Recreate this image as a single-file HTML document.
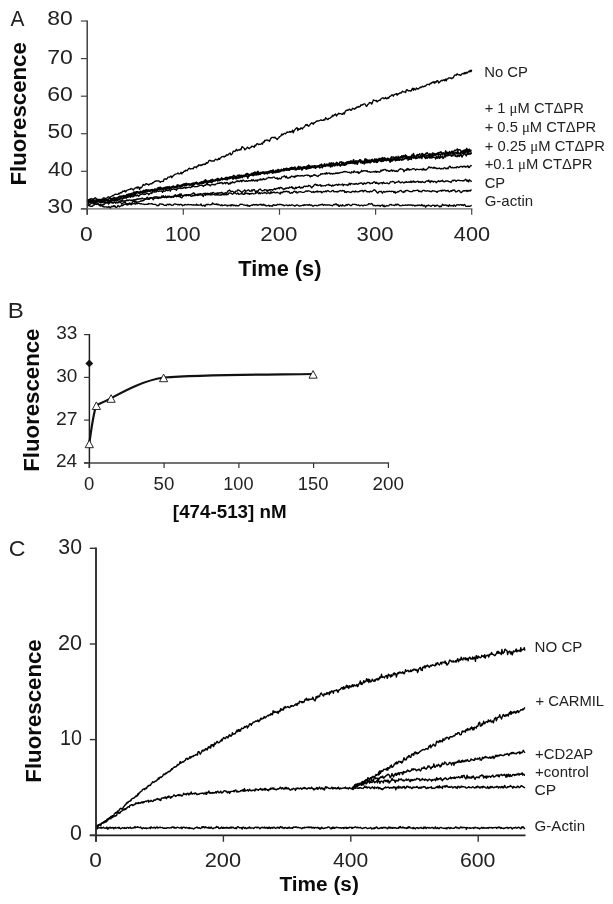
<!DOCTYPE html>
<html><head><meta charset="utf-8"><title>Figure</title>
<style>
html,body{margin:0;padding:0;background:#fff;}
svg{display:block;filter:blur(0.4px);}
text{font-family:"Liberation Sans",sans-serif;fill:#222;}
.sy{font-family:"Liberation Serif",serif;}
</style></head><body>
<svg width="613" height="904" viewBox="0 0 613 904">
<rect width="613" height="904" fill="#fff"/>
<g id="curvesA">
<polyline points="87.2,199.3 88.0,199.7 88.7,200.8 89.5,199.8 90.3,198.8 91.0,198.8 91.8,198.7 92.6,199.2 93.4,198.9 94.1,198.7 94.9,198.0 95.7,197.8 96.4,198.9 97.2,199.8 98.0,199.1 98.7,200.0 99.5,200.7 100.3,200.3 101.0,200.7 101.8,199.3 102.6,199.0 103.3,197.9 104.1,197.9 104.9,198.5 105.7,198.7 106.4,198.1 107.2,197.9 108.0,196.9 108.7,196.8 109.5,197.8 110.3,197.0 111.0,196.8 111.8,196.3 112.6,195.5 113.3,195.8 114.1,194.8 114.9,194.3 115.7,194.2 116.4,194.4 117.2,194.4 118.0,194.4 118.7,193.3 119.5,193.8 120.3,192.5 121.0,193.0 121.8,192.6 122.6,191.2 123.3,191.1 124.1,191.5 124.9,190.5 125.7,192.0 126.4,190.9 127.2,190.1 128.0,189.9 128.7,189.6 129.5,189.4 130.3,189.4 131.0,188.5 131.8,188.8 132.6,189.1 133.3,190.1 134.1,188.9 134.9,188.2 135.6,187.8 136.4,187.2 137.2,188.3 138.0,186.8 138.7,187.3 139.5,189.5 140.3,187.3 141.0,187.9 141.8,187.3 142.6,185.8 143.3,184.4 144.1,185.2 144.9,185.1 145.6,183.8 146.4,183.7 147.2,184.4 148.0,184.1 148.7,185.0 149.5,184.4 150.3,183.8 151.0,183.7 151.8,183.8 152.6,182.6 153.3,182.8 154.1,182.1 154.9,181.1 155.6,181.4 156.4,180.8 157.2,180.9 158.0,181.1 158.7,180.8 159.5,181.6 160.3,182.3 161.0,181.6 161.8,181.4 162.6,181.3 163.3,181.6 164.1,179.0 164.9,179.1 165.6,178.8 166.4,179.3 167.2,178.5 167.9,177.2 168.7,177.1 169.5,177.2 170.3,176.5 171.0,176.0 171.8,177.7 172.6,176.1 173.3,175.9 174.1,175.1 174.9,174.4 175.6,174.1 176.4,173.9 177.2,173.6 177.9,172.9 178.7,173.8 179.5,173.9 180.3,173.5 181.0,172.2 181.8,173.9 182.6,172.6 183.3,172.3 184.1,171.2 184.9,171.3 185.6,170.1 186.4,170.6 187.2,170.7 187.9,169.7 188.7,168.6 189.5,168.2 190.3,169.0 191.0,168.8 191.8,168.6 192.6,168.5 193.3,168.8 194.1,167.0 194.9,166.9 195.6,167.2 196.4,167.8 197.2,166.1 197.9,166.4 198.7,164.8 199.5,165.2 200.2,165.6 201.0,164.7 201.8,165.5 202.6,164.4 203.3,164.2 204.1,164.6 204.9,164.0 205.6,164.3 206.4,162.5 207.2,163.3 207.9,162.8 208.7,161.1 209.5,160.3 210.2,160.4 211.0,161.0 211.8,161.0 212.6,161.0 213.3,160.9 214.1,161.1 214.9,159.9 215.6,159.1 216.4,159.6 217.2,160.0 217.9,159.7 218.7,158.3 219.5,159.4 220.2,158.1 221.0,157.7 221.8,156.7 222.6,156.6 223.3,156.4 224.1,157.0 224.9,156.2 225.6,156.4 226.4,154.8 227.2,155.0 227.9,155.0 228.7,154.1 229.5,153.6 230.2,152.9 231.0,154.9 231.8,154.2 232.5,153.3 233.3,151.1 234.1,151.1 234.9,151.5 235.6,150.8 236.4,149.3 237.2,150.8 237.9,150.3 238.7,149.8 239.5,150.0 240.2,149.3 241.0,149.9 241.8,147.1 242.5,146.7 243.3,147.7 244.1,148.2 244.9,149.9 245.6,148.9 246.4,148.7 247.2,147.2 247.9,147.6 248.7,148.3 249.5,148.7 250.2,147.5 251.0,147.4 251.8,146.1 252.5,146.4 253.3,146.5 254.1,147.4 254.9,145.3 255.6,145.9 256.4,144.4 257.2,143.6 257.9,144.0 258.7,144.6 259.5,144.1 260.2,144.4 261.0,144.1 261.8,143.1 262.5,144.1 263.3,141.9 264.1,142.3 264.8,140.3 265.6,140.5 266.4,140.2 267.2,139.9 267.9,140.6 268.7,140.4 269.5,141.2 270.2,139.6 271.0,138.2 271.8,137.4 272.5,137.4 273.3,137.4 274.1,137.9 274.8,137.1 275.6,137.9 276.4,138.7 277.2,139.6 277.9,138.5 278.7,137.9 279.5,136.7 280.2,136.3 281.0,135.7 281.8,133.9 282.5,135.0 283.3,134.4 284.1,133.3 284.8,133.3 285.6,133.9 286.4,132.9 287.2,131.9 287.9,132.3 288.7,132.2 289.5,131.5 290.2,132.3 291.0,131.6 291.8,131.9 292.5,130.2 293.3,132.8 294.1,130.7 294.8,129.8 295.6,128.9 296.4,128.0 297.1,127.7 297.9,130.6 298.7,128.6 299.5,129.3 300.2,129.3 301.0,127.8 301.8,128.5 302.5,129.0 303.3,127.3 304.1,127.2 304.8,126.3 305.6,124.8 306.4,125.2 307.1,124.4 307.9,125.8 308.7,126.3 309.5,125.0 310.2,124.4 311.0,123.4 311.8,122.7 312.5,123.3 313.3,124.2 314.1,122.6 314.8,122.8 315.6,121.8 316.4,121.4 317.1,120.8 317.9,121.1 318.7,120.8 319.5,120.7 320.2,120.2 321.0,119.7 321.8,120.4 322.5,120.3 323.3,120.3 324.1,119.4 324.8,120.1 325.6,117.7 326.4,118.4 327.1,119.2 327.9,119.6 328.7,118.5 329.4,118.3 330.2,118.2 331.0,117.1 331.8,117.0 332.5,115.2 333.3,116.1 334.1,115.3 334.8,114.6 335.6,113.9 336.4,116.0 337.1,115.0 337.9,114.3 338.7,113.2 339.4,113.8 340.2,113.6 341.0,113.7 341.8,114.3 342.5,114.3 343.3,112.9 344.1,114.1 344.8,112.6 345.6,110.8 346.4,110.5 347.1,110.0 347.9,110.3 348.7,109.9 349.4,109.1 350.2,109.6 351.0,110.4 351.7,110.0 352.5,108.3 353.3,108.6 354.1,109.0 354.8,109.2 355.6,107.8 356.4,108.0 357.1,106.8 357.9,107.3 358.7,106.4 359.4,106.9 360.2,106.4 361.0,104.7 361.7,105.2 362.5,105.0 363.3,104.4 364.1,103.8 364.8,103.8 365.6,105.0 366.4,106.4 367.1,105.7 367.9,104.4 368.7,104.0 369.4,102.4 370.2,102.8 371.0,102.7 371.7,104.1 372.5,102.4 373.3,100.0 374.1,100.3 374.8,100.4 375.6,100.8 376.4,100.4 377.1,101.9 377.9,101.3 378.7,100.3 379.4,100.2 380.2,100.2 381.0,98.8 381.7,98.5 382.5,97.8 383.3,97.9 384.0,98.7 384.8,98.3 385.6,97.4 386.4,98.9 387.1,98.7 387.9,97.5 388.7,98.2 389.4,96.7 390.2,96.4 391.0,95.7 391.7,95.0 392.5,94.9 393.3,96.2 394.0,94.9 394.8,94.4 395.6,94.2 396.4,93.6 397.1,95.3 397.9,93.7 398.7,94.1 399.4,93.2 400.2,92.9 401.0,93.2 401.7,92.1 402.5,91.1 403.3,91.9 404.0,91.9 404.8,91.9 405.6,92.5 406.4,89.8 407.1,89.6 407.9,90.5 408.7,90.8 409.4,90.7 410.2,90.7 411.0,91.1 411.7,89.7 412.5,88.3 413.3,90.3 414.0,88.3 414.8,89.7 415.6,89.9 416.3,88.0 417.1,88.7 417.9,89.1 418.7,88.7 419.4,87.9 420.2,87.2 421.0,87.6 421.7,87.0 422.5,86.1 423.3,86.9 424.0,86.7 424.8,85.9 425.6,86.1 426.3,85.1 427.1,84.4 427.9,84.4 428.7,84.4 429.4,84.8 430.2,83.2 431.0,83.7 431.7,82.7 432.5,82.1 433.3,82.7 434.0,81.5 434.8,83.3 435.6,81.7 436.3,82.1 437.1,80.5 437.9,80.9 438.7,83.0 439.4,82.2 440.2,81.6 441.0,80.7 441.7,80.3 442.5,80.7 443.3,79.9 444.0,79.8 444.8,80.7 445.6,79.1 446.3,80.8 447.1,78.8 447.9,78.9 448.6,77.9 449.4,77.9 450.2,78.2 451.0,77.8 451.7,78.7 452.5,77.9 453.3,77.8 454.0,76.2 454.8,75.0 455.6,75.0 456.3,75.3 457.1,73.8 457.9,74.5 458.6,74.9 459.4,74.6 460.2,75.2 461.0,75.2 461.7,74.0 462.5,73.7 463.3,73.3 464.0,74.1 464.8,72.5 465.6,73.7 466.3,72.3 467.1,73.1 467.9,72.2 468.6,71.3 469.4,71.9 470.2,70.3 471.0,71.7 471.7,69.8" fill="none" stroke="#000" stroke-width="1.35" stroke-linejoin="round"/>
<polyline points="87.2,200.9 87.7,201.5 88.3,201.4 88.8,201.8 89.3,202.0 89.8,201.9 90.4,201.5 90.9,201.9 91.4,202.2 92.0,200.9 92.5,200.9 93.0,201.1 93.5,201.2 94.1,201.9 94.6,202.2 95.1,202.4 95.7,201.5 96.2,200.8 96.7,200.6 97.2,199.8 97.8,200.7 98.3,200.6 98.8,200.4 99.4,199.5 99.9,199.5 100.4,199.8 100.9,199.3 101.5,199.3 102.0,200.1 102.5,200.2 103.1,199.5 103.6,199.4 104.1,199.4 104.6,199.6 105.2,199.9 105.7,199.3 106.2,199.8 106.8,199.2 107.3,199.2 107.8,200.4 108.3,199.6 108.9,198.6 109.4,198.3 109.9,198.0 110.5,198.6 111.0,199.4 111.5,198.8 112.0,199.2 112.6,199.4 113.1,198.0 113.6,198.5 114.2,198.2 114.7,198.5 115.2,198.9 115.8,199.1 116.3,199.2 116.8,198.4 117.3,198.9 117.9,197.5 118.4,197.0 118.9,196.7 119.5,196.2 120.0,196.2 120.5,196.6 121.0,195.9 121.6,196.5 122.1,196.3 122.6,196.8 123.2,195.8 123.7,196.5 124.2,196.2 124.7,196.2 125.3,195.9 125.8,195.7 126.3,195.1 126.9,194.3 127.4,194.3 127.9,194.8 128.4,194.0 129.0,194.6 129.5,195.0 130.0,193.8 130.6,194.5 131.1,193.6 131.6,193.3 132.1,193.7 132.7,193.5 133.2,192.5 133.7,192.1 134.3,192.7 134.8,191.9 135.3,192.5 135.8,192.2 136.4,191.7 136.9,191.7 137.4,192.2 138.0,192.8 138.5,192.3 139.0,192.2 139.5,192.2 140.1,192.4 140.6,192.4 141.1,192.0 141.7,192.5 142.2,192.0 142.7,191.0 143.2,190.8 143.8,190.2 144.3,190.6 144.8,191.0 145.4,190.3 145.9,190.7 146.4,190.2 146.9,190.8 147.5,189.9 148.0,189.9 148.5,190.2 149.1,190.0 149.6,190.5 150.1,190.4 150.6,190.3 151.2,189.6 151.7,190.0 152.2,189.8 152.8,190.3 153.3,190.6 153.8,190.7 154.3,189.9 154.9,188.7 155.4,189.3 155.9,189.7 156.5,189.2 157.0,189.1 157.5,187.9 158.0,188.0 158.6,187.5 159.1,187.8 159.6,187.3 160.2,187.3 160.7,187.2 161.2,188.5 161.7,188.2 162.3,188.3 162.8,189.1 163.3,188.5 163.9,188.2 164.4,188.3 164.9,187.2 165.4,187.2 166.0,187.5 166.5,188.2 167.0,186.7 167.6,187.1 168.1,186.9 168.6,187.2 169.2,188.3 169.7,187.5 170.2,187.6 170.7,187.3 171.3,187.1 171.8,187.1 172.3,186.5 172.9,186.7 173.4,186.7 173.9,187.1 174.4,187.2 175.0,187.0 175.5,187.3 176.0,186.7 176.6,186.4 177.1,186.7 177.6,186.5 178.1,185.4 178.7,185.6 179.2,185.7 179.7,186.1 180.3,185.2 180.8,186.0 181.3,186.2 181.8,185.5 182.4,185.2 182.9,184.3 183.4,184.7 184.0,183.7 184.5,184.6 185.0,183.9 185.5,183.9 186.1,183.1 186.6,184.1 187.1,184.0 187.7,184.2 188.2,183.9 188.7,184.8 189.2,184.7 189.8,185.1 190.3,184.7 190.8,184.6 191.4,184.3 191.9,183.7 192.4,183.3 192.9,183.4 193.5,183.2 194.0,182.9 194.5,184.2 195.1,183.2 195.6,182.6 196.1,182.3 196.6,183.1 197.2,183.0 197.7,184.1 198.2,183.6 198.8,183.1 199.3,182.8 199.8,182.5 200.3,182.2 200.9,182.7 201.4,181.9 201.9,181.7 202.5,182.1 203.0,181.8 203.5,181.3 204.0,181.7 204.6,181.1 205.1,179.9 205.6,179.7 206.2,180.6 206.7,181.3 207.2,181.4 207.7,181.5 208.3,182.1 208.8,180.7 209.3,181.2 209.9,181.4 210.4,180.0 210.9,180.7 211.4,180.2 212.0,179.4 212.5,179.3 213.0,179.8 213.6,180.2 214.1,180.8 214.6,180.1 215.1,180.7 215.7,180.7 216.2,179.7 216.7,179.4 217.3,179.4 217.8,178.3 218.3,178.8 218.9,179.7 219.4,179.1 219.9,179.9 220.4,179.2 221.0,178.7 221.5,177.7 222.0,179.1 222.6,179.7 223.1,179.0 223.6,178.6 224.1,178.8 224.7,178.6 225.2,177.8 225.7,177.5 226.3,177.3 226.8,177.5 227.3,177.5 227.8,177.6 228.4,177.6 228.9,177.6 229.4,177.1 230.0,176.8 230.5,178.0 231.0,177.4 231.5,176.9 232.1,176.8 232.6,176.3 233.1,176.6 233.7,175.3 234.2,175.6 234.7,176.3 235.2,177.7 235.8,178.0 236.3,176.7 236.8,176.1 237.4,176.0 237.9,175.1 238.4,175.8 238.9,175.0 239.5,175.2 240.0,175.1 240.5,176.3 241.1,175.3 241.6,175.2 242.1,176.2 242.6,175.8 243.2,175.4 243.7,175.6 244.2,176.5 244.8,175.3 245.3,174.9 245.8,175.2 246.3,173.5 246.9,174.8 247.4,175.0 247.9,174.7 248.5,175.2 249.0,174.5 249.5,174.8 250.0,175.2 250.6,175.2 251.1,173.8 251.6,173.4 252.2,173.1 252.7,173.5 253.2,173.5 253.7,172.6 254.3,173.3 254.8,172.0 255.3,174.0 255.9,173.8 256.4,173.6 256.9,172.8 257.4,171.6 258.0,171.2 258.5,173.0 259.0,172.5 259.6,173.2 260.1,173.5 260.6,173.3 261.1,172.7 261.7,173.1 262.2,172.0 262.7,172.2 263.3,173.0 263.8,173.2 264.3,173.6 264.8,172.0 265.4,173.5 265.9,172.2 266.4,172.8 267.0,173.2 267.5,173.7 268.0,172.3 268.5,171.4 269.1,171.8 269.6,171.4 270.1,170.8 270.7,171.0 271.2,170.6 271.7,171.6 272.3,170.4 272.8,171.5 273.3,170.0 273.8,171.6 274.4,172.6 274.9,171.3 275.4,171.3 276.0,170.1 276.5,171.1 277.0,170.8 277.5,170.3 278.1,169.3 278.6,170.1 279.1,170.0 279.7,170.1 280.2,170.5 280.7,170.5 281.2,170.6 281.8,171.0 282.3,169.7 282.8,170.5 283.4,169.1 283.9,168.5 284.4,169.4 284.9,169.8 285.5,168.7 286.0,168.6 286.5,168.1 287.1,168.8 287.6,168.5 288.1,169.7 288.6,169.8 289.2,169.8 289.7,168.4 290.2,168.1 290.8,167.9 291.3,167.4 291.8,167.3 292.3,169.2 292.9,167.4 293.4,168.8 293.9,167.8 294.5,167.9 295.0,169.8 295.5,169.1 296.0,169.5 296.6,168.6 297.1,168.0 297.6,167.1 298.2,167.7 298.7,166.2 299.2,167.2 299.7,167.2 300.3,167.0 300.8,167.0 301.3,168.4 301.9,168.1 302.4,168.2 302.9,168.1 303.4,166.6 304.0,168.0 304.5,166.6 305.0,166.7 305.6,167.4 306.1,167.5 306.6,166.5 307.1,166.3 307.7,165.6 308.2,165.6 308.7,165.0 309.3,167.7 309.8,165.8 310.3,166.3 310.8,166.4 311.4,166.5 311.9,167.3 312.4,166.5 313.0,167.2 313.5,166.7 314.0,167.9 314.5,166.1 315.1,166.6 315.6,166.7 316.1,166.4 316.7,166.7 317.2,166.9 317.7,166.7 318.2,166.3 318.8,165.6 319.3,165.8 319.8,164.9 320.4,165.1 320.9,165.2 321.4,164.0 321.9,164.7 322.5,166.2 323.0,166.0 323.5,165.8 324.1,166.0 324.6,163.7 325.1,165.3 325.7,165.1 326.2,165.5 326.7,165.3 327.2,164.2 327.8,165.4 328.3,164.5 328.8,164.6 329.4,163.0 329.9,164.4 330.4,164.6 330.9,165.2 331.5,166.0 332.0,164.3 332.5,163.2 333.1,164.8 333.6,163.3 334.1,164.2 334.6,164.8 335.2,164.5 335.7,164.6 336.2,164.4 336.8,162.4 337.3,164.8 337.8,163.4 338.3,163.5 338.9,164.2 339.4,163.3 339.9,161.9 340.5,162.2 341.0,161.9 341.5,162.0 342.0,164.5 342.6,162.6 343.1,162.3 343.6,163.1 344.2,163.0 344.7,164.1 345.2,163.0 345.7,163.4 346.3,163.4 346.8,162.1 347.3,163.0 347.9,162.0 348.4,162.6 348.9,161.5 349.4,161.4 350.0,162.1 350.5,161.6 351.0,160.5 351.6,162.2 352.1,161.8 352.6,162.1 353.1,160.3 353.7,159.6 354.2,161.3 354.7,161.9 355.3,162.1 355.8,161.5 356.3,162.7 356.8,161.2 357.4,161.0 357.9,161.5 358.4,161.3 359.0,160.6 359.5,159.8 360.0,161.4 360.5,159.6 361.1,161.1 361.6,161.5 362.1,160.9 362.7,161.4 363.2,161.7 363.7,161.4 364.2,161.5 364.8,159.1 365.3,158.8 365.8,160.4 366.4,159.2 366.9,160.8 367.4,160.5 367.9,159.8 368.5,161.1 369.0,160.8 369.5,160.0 370.1,160.7 370.6,160.7 371.1,159.8 371.6,160.0 372.2,159.3 372.7,160.1 373.2,160.1 373.8,160.6 374.3,160.4 374.8,161.2 375.3,161.0 375.9,159.1 376.4,159.4 376.9,158.9 377.5,160.5 378.0,159.8 378.5,159.1 379.1,158.3 379.6,159.3 380.1,159.3 380.6,158.4 381.2,158.6 381.7,159.3 382.2,157.4 382.8,158.0 383.3,159.4 383.8,157.9 384.3,159.0 384.9,157.8 385.4,158.7 385.9,159.4 386.5,158.8 387.0,158.8 387.5,158.1 388.0,158.2 388.6,158.9 389.1,159.5 389.6,161.4 390.2,158.7 390.7,159.6 391.2,157.3 391.7,156.7 392.3,157.1 392.8,157.1 393.3,157.0 393.9,157.2 394.4,157.3 394.9,157.7 395.4,158.3 396.0,156.5 396.5,157.6 397.0,157.4 397.6,158.1 398.1,157.9 398.6,158.1 399.1,157.4 399.7,157.1 400.2,157.5 400.7,158.0 401.3,157.9 401.8,155.7 402.3,157.4 402.8,157.5 403.4,155.5 403.9,156.0 404.4,156.2 405.0,156.6 405.5,154.8 406.0,156.2 406.5,155.8 407.1,156.3 407.6,157.7 408.1,157.7 408.7,156.6 409.2,157.1 409.7,157.2 410.2,157.9 410.8,157.7 411.3,156.7 411.8,157.3 412.4,155.1 412.9,155.1 413.4,153.4 413.9,154.5 414.5,155.7 415.0,155.8 415.5,157.9 416.1,156.2 416.6,155.8 417.1,154.4 417.6,154.9 418.2,154.6 418.7,154.7 419.2,154.6 419.8,153.7 420.3,155.8 420.8,155.8 421.3,156.5 421.9,153.5 422.4,153.5 422.9,153.9 423.5,155.4 424.0,154.8 424.5,154.8 425.0,154.3 425.6,153.9 426.1,153.1 426.6,153.6 427.2,152.5 427.7,153.3 428.2,154.1 428.7,154.3 429.3,154.6 429.8,153.7 430.3,154.7 430.9,154.0 431.4,154.6 431.9,155.5 432.5,152.9 433.0,154.8 433.5,153.1 434.0,153.5 434.6,155.3 435.1,154.5 435.6,154.2 436.2,154.2 436.7,154.3 437.2,152.9 437.7,153.7 438.3,152.8 438.8,153.5 439.3,152.3 439.9,152.9 440.4,152.6 440.9,151.6 441.4,152.7 442.0,153.7 442.5,154.4 443.0,153.6 443.6,153.1 444.1,153.3 444.6,153.3 445.1,152.5 445.7,150.6 446.2,153.2 446.7,152.8 447.3,152.2 447.8,155.2 448.3,152.7 448.8,153.5 449.4,151.5 449.9,152.5 450.4,152.4 451.0,151.9 451.5,151.7 452.0,152.6 452.5,152.1 453.1,153.5 453.6,151.9 454.1,150.9 454.7,150.1 455.2,150.6 455.7,150.9 456.2,149.9 456.8,149.5 457.3,148.9 457.8,149.3 458.4,150.2 458.9,150.0 459.4,149.7 459.9,149.8 460.5,150.1 461.0,151.2 461.5,152.8 462.1,151.2 462.6,152.8 463.1,150.4 463.6,150.3 464.2,151.9 464.7,149.9 465.2,149.8 465.8,150.4 466.3,149.1 466.8,148.3 467.3,151.7 467.9,149.5 468.4,150.0 468.9,149.8 469.5,149.1 470.0,150.6 470.5,150.3 471.0,150.5 471.6,150.2" fill="none" stroke="#000" stroke-width="1.35" stroke-linejoin="round"/>
<polyline points="87.2,204.9 87.7,204.2 88.3,203.9 88.8,204.0 89.3,205.0 89.8,204.4 90.4,204.1 90.9,203.6 91.4,203.3 92.0,203.4 92.5,202.6 93.0,202.9 93.5,203.0 94.1,202.3 94.6,202.2 95.1,202.4 95.7,202.2 96.2,201.8 96.7,201.9 97.2,201.8 97.8,201.8 98.3,201.5 98.8,201.8 99.4,201.3 99.9,201.2 100.4,202.6 100.9,201.5 101.5,201.6 102.0,201.9 102.5,201.6 103.1,201.4 103.6,201.4 104.1,201.0 104.6,201.2 105.2,200.4 105.7,200.7 106.2,200.1 106.8,200.2 107.3,201.2 107.8,200.8 108.3,201.3 108.9,200.9 109.4,201.2 109.9,200.4 110.5,199.6 111.0,200.1 111.5,198.9 112.0,199.5 112.6,199.4 113.1,198.4 113.6,198.1 114.2,197.5 114.7,198.3 115.2,197.9 115.8,198.0 116.3,197.8 116.8,198.5 117.3,198.0 117.9,197.7 118.4,198.1 118.9,197.5 119.5,198.4 120.0,198.0 120.5,197.9 121.0,198.0 121.6,197.5 122.1,196.2 122.6,196.6 123.2,196.3 123.7,195.4 124.2,195.7 124.7,195.8 125.3,196.6 125.8,196.0 126.3,195.1 126.9,195.2 127.4,194.7 127.9,195.7 128.4,195.2 129.0,195.3 129.5,194.2 130.0,194.8 130.6,193.9 131.1,194.3 131.6,194.5 132.1,193.8 132.7,193.8 133.2,194.1 133.7,193.1 134.3,193.4 134.8,193.7 135.3,193.9 135.8,193.2 136.4,192.7 136.9,191.8 137.4,191.6 138.0,191.9 138.5,192.4 139.0,192.5 139.5,192.3 140.1,191.7 140.6,191.1 141.1,191.7 141.7,191.6 142.2,192.1 142.7,191.5 143.2,192.7 143.8,192.7 144.3,192.1 144.8,191.8 145.4,190.6 145.9,190.0 146.4,189.8 146.9,190.8 147.5,190.6 148.0,191.0 148.5,190.7 149.1,190.8 149.6,190.9 150.1,190.2 150.6,190.9 151.2,191.0 151.7,190.4 152.2,190.5 152.8,190.9 153.3,190.5 153.8,190.4 154.3,190.5 154.9,190.0 155.4,189.8 155.9,190.0 156.5,189.9 157.0,189.5 157.5,189.9 158.0,189.9 158.6,189.2 159.1,189.3 159.6,189.7 160.2,188.4 160.7,188.6 161.2,188.4 161.7,188.1 162.3,188.6 162.8,188.7 163.3,187.8 163.9,188.9 164.4,188.6 164.9,188.7 165.4,188.9 166.0,188.5 166.5,188.3 167.0,187.1 167.6,188.6 168.1,188.3 168.6,187.7 169.2,187.9 169.7,187.6 170.2,187.3 170.7,187.8 171.3,187.6 171.8,187.5 172.3,186.6 172.9,186.2 173.4,186.4 173.9,186.7 174.4,187.1 175.0,187.4 175.5,186.7 176.0,186.5 176.6,186.4 177.1,184.9 177.6,184.8 178.1,185.7 178.7,185.2 179.2,185.7 179.7,185.9 180.3,185.9 180.8,185.8 181.3,185.5 181.8,184.8 182.4,185.5 182.9,185.4 183.4,185.5 184.0,184.9 184.5,184.8 185.0,184.1 185.5,184.6 186.1,184.1 186.6,184.7 187.1,184.5 187.7,184.8 188.2,184.2 188.7,184.4 189.2,183.8 189.8,184.7 190.3,184.0 190.8,184.4 191.4,183.6 191.9,184.9 192.4,185.0 192.9,185.5 193.5,183.6 194.0,184.8 194.5,183.7 195.1,182.8 195.6,183.2 196.1,182.2 196.6,182.2 197.2,183.4 197.7,183.4 198.2,184.1 198.8,184.0 199.3,184.0 199.8,183.4 200.3,182.9 200.9,183.5 201.4,183.6 201.9,183.7 202.5,183.4 203.0,181.8 203.5,182.1 204.0,182.1 204.6,181.6 205.1,182.2 205.6,180.9 206.2,182.1 206.7,181.2 207.2,180.9 207.7,182.0 208.3,182.5 208.8,182.2 209.3,181.1 209.9,182.1 210.4,181.9 210.9,180.4 211.4,180.5 212.0,181.1 212.5,181.8 213.0,180.7 213.6,180.9 214.1,180.6 214.6,180.3 215.1,180.3 215.7,179.9 216.2,179.0 216.7,179.3 217.3,180.8 217.8,181.1 218.3,179.6 218.9,180.4 219.4,180.7 219.9,179.4 220.4,179.6 221.0,179.7 221.5,179.3 222.0,179.3 222.6,179.5 223.1,178.7 223.6,179.1 224.1,179.0 224.7,178.7 225.2,178.8 225.7,179.6 226.3,179.5 226.8,179.0 227.3,178.8 227.8,178.2 228.4,178.1 228.9,177.4 229.4,177.4 230.0,177.4 230.5,177.8 231.0,177.0 231.5,177.1 232.1,178.1 232.6,179.0 233.1,179.2 233.7,178.1 234.2,177.3 234.7,176.7 235.2,177.4 235.8,176.2 236.3,177.1 236.8,177.3 237.4,177.4 237.9,178.2 238.4,177.9 238.9,178.0 239.5,177.6 240.0,178.0 240.5,176.7 241.1,176.7 241.6,176.1 242.1,175.8 242.6,176.2 243.2,176.0 243.7,176.1 244.2,175.2 244.8,175.3 245.3,175.3 245.8,174.4 246.3,174.4 246.9,174.5 247.4,173.7 247.9,173.5 248.5,174.9 249.0,174.6 249.5,175.8 250.0,174.7 250.6,174.8 251.1,175.1 251.6,174.2 252.2,174.3 252.7,174.6 253.2,174.5 253.7,174.2 254.3,173.3 254.8,174.3 255.3,173.7 255.9,172.3 256.4,173.2 256.9,173.1 257.4,173.6 258.0,174.9 258.5,174.1 259.0,173.6 259.6,174.2 260.1,173.3 260.6,172.3 261.1,172.4 261.7,173.2 262.2,172.9 262.7,173.3 263.3,171.9 263.8,172.5 264.3,172.4 264.8,172.8 265.4,172.8 265.9,172.2 266.4,172.6 267.0,173.6 267.5,173.7 268.0,173.1 268.5,172.4 269.1,172.6 269.6,173.0 270.1,171.9 270.7,172.1 271.2,172.2 271.7,172.2 272.3,171.6 272.8,170.3 273.3,170.9 273.8,170.8 274.4,172.1 274.9,172.5 275.4,172.0 276.0,172.5 276.5,172.2 277.0,171.3 277.5,170.5 278.1,171.1 278.6,170.9 279.1,171.6 279.7,171.4 280.2,171.3 280.7,170.7 281.2,169.2 281.8,169.6 282.3,169.6 282.8,170.0 283.4,170.9 283.9,170.8 284.4,170.2 284.9,169.3 285.5,168.8 286.0,169.0 286.5,169.6 287.1,170.2 287.6,169.8 288.1,169.9 288.6,168.8 289.2,170.3 289.7,169.3 290.2,167.9 290.8,169.4 291.3,169.3 291.8,168.7 292.3,168.0 292.9,168.1 293.4,167.8 293.9,168.1 294.5,168.2 295.0,166.8 295.5,168.9 296.0,169.8 296.6,169.5 297.1,169.2 297.6,168.7 298.2,168.1 298.7,169.0 299.2,169.3 299.7,168.3 300.3,168.3 300.8,167.5 301.3,168.0 301.9,167.3 302.4,167.6 302.9,167.4 303.4,168.2 304.0,167.7 304.5,167.5 305.0,168.3 305.6,168.0 306.1,167.8 306.6,166.8 307.1,168.9 307.7,167.5 308.2,168.7 308.7,168.0 309.3,166.6 309.8,168.3 310.3,167.5 310.8,167.7 311.4,166.9 311.9,166.0 312.4,166.3 313.0,167.5 313.5,166.5 314.0,165.6 314.5,165.7 315.1,165.9 315.6,166.2 316.1,167.1 316.7,166.0 317.2,166.6 317.7,165.8 318.2,166.9 318.8,165.9 319.3,166.5 319.8,166.1 320.4,165.3 320.9,165.2 321.4,165.8 321.9,165.4 322.5,167.8 323.0,165.9 323.5,166.1 324.1,166.0 324.6,165.7 325.1,166.3 325.7,165.5 326.2,164.6 326.7,164.1 327.2,165.2 327.8,165.7 328.3,164.5 328.8,166.0 329.4,163.7 329.9,164.2 330.4,164.1 330.9,163.0 331.5,162.8 332.0,165.1 332.5,163.6 333.1,164.3 333.6,162.9 334.1,164.3 334.6,165.2 335.2,163.8 335.7,163.7 336.2,162.7 336.8,162.4 337.3,163.5 337.8,164.2 338.3,164.4 338.9,165.0 339.4,165.0 339.9,164.8 340.5,166.2 341.0,164.1 341.5,164.2 342.0,162.2 342.6,163.2 343.1,164.2 343.6,163.6 344.2,165.1 344.7,164.6 345.2,164.8 345.7,162.6 346.3,162.2 346.8,163.2 347.3,162.4 347.9,161.6 348.4,162.5 348.9,162.4 349.4,163.0 350.0,163.2 350.5,162.3 351.0,161.8 351.6,163.0 352.1,162.7 352.6,161.7 353.1,163.5 353.7,161.9 354.2,162.4 354.7,162.0 355.3,160.9 355.8,162.2 356.3,162.6 356.8,163.9 357.4,164.3 357.9,163.1 358.4,162.0 359.0,161.5 359.5,160.3 360.0,161.6 360.5,162.1 361.1,161.5 361.6,162.4 362.1,162.9 362.7,163.2 363.2,161.6 363.7,162.9 364.2,161.8 364.8,163.1 365.3,160.7 365.8,162.3 366.4,161.0 366.9,162.5 367.4,162.0 367.9,160.4 368.5,161.6 369.0,160.8 369.5,161.5 370.1,163.1 370.6,161.1 371.1,161.2 371.6,161.9 372.2,160.2 372.7,161.0 373.2,160.8 373.8,160.2 374.3,160.5 374.8,158.7 375.3,162.1 375.9,160.2 376.4,160.6 376.9,162.4 377.5,161.8 378.0,160.4 378.5,160.8 379.1,159.7 379.6,159.7 380.1,160.4 380.6,160.2 381.2,161.7 381.7,158.9 382.2,159.7 382.8,158.8 383.3,159.2 383.8,160.3 384.3,158.2 384.9,158.9 385.4,158.7 385.9,160.0 386.5,159.4 387.0,159.6 387.5,159.7 388.0,160.5 388.6,159.2 389.1,159.4 389.6,159.4 390.2,159.4 390.7,158.0 391.2,159.1 391.7,160.7 392.3,159.6 392.8,159.0 393.3,157.8 393.9,158.9 394.4,158.6 394.9,159.1 395.4,158.1 396.0,158.4 396.5,159.1 397.0,159.0 397.6,157.8 398.1,159.4 398.6,160.1 399.1,157.7 399.7,158.9 400.2,157.2 400.7,156.6 401.3,156.5 401.8,156.3 402.3,157.9 402.8,157.4 403.4,158.1 403.9,155.8 404.4,156.9 405.0,156.0 405.5,157.2 406.0,158.9 406.5,156.2 407.1,157.5 407.6,157.8 408.1,157.7 408.7,157.3 409.2,157.5 409.7,158.8 410.2,156.3 410.8,157.3 411.3,156.6 411.8,154.9 412.4,154.9 412.9,155.6 413.4,157.2 413.9,155.6 414.5,156.9 415.0,157.6 415.5,158.6 416.1,157.6 416.6,157.5 417.1,155.7 417.6,155.3 418.2,155.4 418.7,157.1 419.2,156.7 419.8,156.4 420.3,157.3 420.8,156.2 421.3,154.6 421.9,155.8 422.4,155.2 422.9,156.2 423.5,155.1 424.0,156.5 424.5,155.3 425.0,154.7 425.6,154.5 426.1,155.2 426.6,155.4 427.2,155.5 427.7,155.7 428.2,155.6 428.7,155.1 429.3,156.4 429.8,154.9 430.3,156.0 430.9,156.5 431.4,155.9 431.9,156.6 432.5,157.0 433.0,154.7 433.5,155.5 434.0,154.8 434.6,153.7 435.1,153.8 435.6,155.8 436.2,153.8 436.7,154.5 437.2,154.0 437.7,153.5 438.3,155.5 438.8,154.7 439.3,154.8 439.9,154.3 440.4,155.3 440.9,155.3 441.4,154.1 442.0,153.3 442.5,153.3 443.0,152.6 443.6,154.0 444.1,153.9 444.6,153.6 445.1,154.2 445.7,154.2 446.2,152.2 446.7,153.7 447.3,154.5 447.8,153.8 448.3,152.8 448.8,154.2 449.4,153.0 449.9,153.6 450.4,153.4 451.0,153.5 451.5,152.7 452.0,151.0 452.5,153.9 453.1,151.6 453.6,154.2 454.1,154.0 454.7,152.7 455.2,152.5 455.7,152.9 456.2,153.9 456.8,152.2 457.3,153.7 457.8,150.3 458.4,153.5 458.9,152.9 459.4,154.1 459.9,152.9 460.5,153.3 461.0,151.1 461.5,152.3 462.1,152.2 462.6,153.5 463.1,153.7 463.6,151.7 464.2,153.4 464.7,153.6 465.2,151.1 465.8,152.5 466.3,151.8 466.8,150.8 467.3,152.4 467.9,150.8 468.4,152.4 468.9,150.3 469.5,149.9 470.0,151.8 470.5,151.4 471.0,152.2 471.6,152.2" fill="none" stroke="#000" stroke-width="1.35" stroke-linejoin="round"/>
<polyline points="87.2,200.3 87.7,201.2 88.3,200.6 88.8,200.0 89.3,200.1 89.8,199.1 90.4,199.5 90.9,200.6 91.4,200.6 92.0,200.1 92.5,200.6 93.0,199.5 93.5,199.3 94.1,200.2 94.6,200.1 95.1,200.1 95.7,200.0 96.2,200.3 96.7,200.0 97.2,199.7 97.8,199.8 98.3,200.1 98.8,199.8 99.4,199.5 99.9,200.0 100.4,201.2 100.9,200.9 101.5,200.9 102.0,200.5 102.5,201.6 103.1,201.1 103.6,201.5 104.1,200.3 104.6,200.5 105.2,200.6 105.7,200.4 106.2,199.9 106.8,200.3 107.3,200.7 107.8,200.0 108.3,200.5 108.9,200.5 109.4,201.3 109.9,201.5 110.5,201.4 111.0,200.9 111.5,200.2 112.0,200.2 112.6,200.1 113.1,200.4 113.6,200.1 114.2,201.0 114.7,200.5 115.2,200.1 115.8,199.9 116.3,199.3 116.8,200.2 117.3,200.3 117.9,200.1 118.4,199.8 118.9,199.7 119.5,199.0 120.0,198.7 120.5,198.3 121.0,198.1 121.6,198.3 122.1,198.8 122.6,198.8 123.2,198.0 123.7,197.2 124.2,197.6 124.7,196.9 125.3,197.6 125.8,197.6 126.3,196.7 126.9,197.1 127.4,197.4 127.9,196.7 128.4,196.1 129.0,195.7 129.5,195.7 130.0,195.2 130.6,195.5 131.1,195.1 131.6,195.2 132.1,195.6 132.7,194.9 133.2,194.7 133.7,195.2 134.3,195.2 134.8,194.5 135.3,195.2 135.8,193.7 136.4,193.2 136.9,192.8 137.4,192.5 138.0,192.5 138.5,192.6 139.0,193.6 139.5,193.7 140.1,193.5 140.6,192.4 141.1,192.4 141.7,192.8 142.2,192.4 142.7,192.4 143.2,192.0 143.8,191.8 144.3,191.3 144.8,192.8 145.4,191.8 145.9,191.8 146.4,192.0 146.9,191.6 147.5,191.2 148.0,191.2 148.5,190.8 149.1,191.3 149.6,191.2 150.1,191.5 150.6,190.2 151.2,190.3 151.7,189.5 152.2,189.5 152.8,189.7 153.3,189.9 153.8,190.4 154.3,190.0 154.9,189.9 155.4,189.4 155.9,190.6 156.5,189.6 157.0,189.6 157.5,190.3 158.0,189.3 158.6,188.3 159.1,188.0 159.6,189.2 160.2,188.9 160.7,189.5 161.2,189.3 161.7,189.2 162.3,189.0 162.8,188.7 163.3,189.2 163.9,188.5 164.4,189.1 164.9,189.1 165.4,189.4 166.0,190.2 166.5,189.0 167.0,188.7 167.6,188.2 168.1,187.6 168.6,188.0 169.2,186.5 169.7,187.5 170.2,187.8 170.7,188.0 171.3,188.3 171.8,187.1 172.3,187.5 172.9,186.8 173.4,186.2 173.9,186.2 174.4,186.7 175.0,187.4 175.5,187.7 176.0,187.3 176.6,187.5 177.1,187.2 177.6,186.9 178.1,186.1 178.7,185.5 179.2,185.5 179.7,185.9 180.3,186.3 180.8,186.1 181.3,186.7 181.8,186.1 182.4,186.2 182.9,185.6 183.4,185.0 184.0,185.6 184.5,185.6 185.0,185.1 185.5,185.6 186.1,185.4 186.6,185.5 187.1,184.7 187.7,184.6 188.2,184.2 188.7,184.3 189.2,184.8 189.8,184.8 190.3,184.5 190.8,185.2 191.4,184.6 191.9,183.5 192.4,183.4 192.9,183.5 193.5,183.4 194.0,183.5 194.5,184.2 195.1,183.8 195.6,183.2 196.1,183.7 196.6,183.7 197.2,183.1 197.7,183.6 198.2,183.9 198.8,183.8 199.3,183.6 199.8,182.7 200.3,182.7 200.9,182.5 201.4,182.3 201.9,183.0 202.5,182.5 203.0,182.6 203.5,183.2 204.0,181.5 204.6,182.8 205.1,182.2 205.6,182.0 206.2,182.8 206.7,183.2 207.2,183.6 207.7,182.7 208.3,182.0 208.8,181.6 209.3,181.6 209.9,181.4 210.4,181.4 210.9,181.7 211.4,182.8 212.0,182.3 212.5,181.9 213.0,180.9 213.6,181.1 214.1,180.3 214.6,180.3 215.1,180.6 215.7,180.3 216.2,179.5 216.7,180.2 217.3,179.9 217.8,179.3 218.3,179.1 218.9,180.3 219.4,179.7 219.9,180.1 220.4,179.8 221.0,178.9 221.5,178.6 222.0,178.3 222.6,178.5 223.1,178.6 223.6,178.8 224.1,179.2 224.7,178.9 225.2,178.9 225.7,179.0 226.3,178.8 226.8,179.6 227.3,179.9 227.8,178.6 228.4,178.9 228.9,178.6 229.4,178.8 230.0,178.2 230.5,178.3 231.0,177.8 231.5,177.8 232.1,177.3 232.6,178.3 233.1,177.4 233.7,178.7 234.2,177.9 234.7,177.0 235.2,178.1 235.8,178.8 236.3,178.8 236.8,178.5 237.4,177.4 237.9,177.8 238.4,176.6 238.9,176.7 239.5,176.3 240.0,176.0 240.5,176.7 241.1,176.2 241.6,177.2 242.1,177.5 242.6,177.7 243.2,175.3 243.7,176.0 244.2,176.7 244.8,176.2 245.3,176.3 245.8,175.3 246.3,176.5 246.9,176.0 247.4,177.3 247.9,178.4 248.5,175.8 249.0,176.0 249.5,175.8 250.0,174.2 250.6,175.1 251.1,174.7 251.6,174.5 252.2,175.4 252.7,175.2 253.2,175.8 253.7,175.3 254.3,174.7 254.8,175.1 255.3,174.7 255.9,174.6 256.4,175.1 256.9,174.2 257.4,174.1 258.0,173.6 258.5,174.6 259.0,174.1 259.6,174.1 260.1,174.6 260.6,174.0 261.1,173.3 261.7,172.8 262.2,173.2 262.7,172.3 263.3,172.3 263.8,172.9 264.3,174.1 264.8,173.4 265.4,172.6 265.9,173.0 266.4,171.9 267.0,171.8 267.5,171.8 268.0,172.4 268.5,172.4 269.1,172.5 269.6,172.4 270.1,171.7 270.7,171.9 271.2,172.3 271.7,172.7 272.3,172.4 272.8,173.4 273.3,172.6 273.8,172.4 274.4,172.1 274.9,172.2 275.4,172.5 276.0,172.3 276.5,171.5 277.0,171.2 277.5,172.2 278.1,171.4 278.6,172.2 279.1,171.0 279.7,171.9 280.2,171.6 280.7,170.8 281.2,170.8 281.8,170.4 282.3,169.6 282.8,170.1 283.4,169.5 283.9,169.5 284.4,170.6 284.9,169.2 285.5,170.0 286.0,169.7 286.5,170.2 287.1,169.1 287.6,169.3 288.1,170.1 288.6,168.9 289.2,170.0 289.7,170.0 290.2,169.4 290.8,169.0 291.3,168.6 291.8,169.3 292.3,168.8 292.9,168.1 293.4,169.3 293.9,168.6 294.5,168.6 295.0,168.7 295.5,168.2 296.0,168.7 296.6,169.6 297.1,169.0 297.6,168.3 298.2,169.2 298.7,168.9 299.2,168.1 299.7,169.1 300.3,168.0 300.8,168.5 301.3,169.1 301.9,170.2 302.4,169.4 302.9,168.9 303.4,168.2 304.0,167.9 304.5,168.2 305.0,167.6 305.6,168.1 306.1,169.4 306.6,168.8 307.1,167.4 307.7,167.8 308.2,166.2 308.7,166.4 309.3,167.3 309.8,167.5 310.3,167.6 310.8,167.9 311.4,167.9 311.9,167.1 312.4,166.0 313.0,166.8 313.5,166.5 314.0,166.8 314.5,167.5 315.1,166.2 315.6,168.4 316.1,167.2 316.7,166.8 317.2,167.0 317.7,166.2 318.2,166.0 318.8,166.9 319.3,167.3 319.8,168.0 320.4,167.1 320.9,167.6 321.4,167.0 321.9,166.0 322.5,165.8 323.0,164.8 323.5,164.8 324.1,165.8 324.6,165.2 325.1,165.0 325.7,166.5 326.2,165.1 326.7,165.3 327.2,165.1 327.8,165.7 328.3,164.7 328.8,164.7 329.4,165.5 329.9,165.3 330.4,167.1 330.9,165.1 331.5,166.4 332.0,166.7 332.5,165.4 333.1,165.5 333.6,164.4 334.1,166.0 334.6,165.3 335.2,165.7 335.7,163.6 336.2,164.7 336.8,163.9 337.3,165.7 337.8,164.6 338.3,164.8 338.9,164.0 339.4,163.9 339.9,165.5 340.5,165.4 341.0,165.0 341.5,165.1 342.0,164.5 342.6,164.6 343.1,165.3 343.6,164.8 344.2,164.2 344.7,165.4 345.2,165.0 345.7,164.4 346.3,164.6 346.8,164.5 347.3,162.8 347.9,162.3 348.4,162.8 348.9,163.7 349.4,162.4 350.0,162.6 350.5,163.4 351.0,163.2 351.6,162.0 352.1,163.0 352.6,162.2 353.1,162.6 353.7,163.0 354.2,163.2 354.7,163.7 355.3,162.2 355.8,163.9 356.3,160.8 356.8,161.6 357.4,162.1 357.9,162.4 358.4,161.4 359.0,161.0 359.5,161.2 360.0,161.0 360.5,162.8 361.1,162.1 361.6,162.1 362.1,163.0 362.7,163.0 363.2,161.8 363.7,162.1 364.2,164.1 364.8,161.5 365.3,161.9 365.8,163.0 366.4,162.5 366.9,162.7 367.4,162.0 367.9,162.7 368.5,162.5 369.0,161.0 369.5,162.2 370.1,161.0 370.6,160.9 371.1,161.9 371.6,161.5 372.2,161.4 372.7,161.1 373.2,161.2 373.8,162.2 374.3,162.1 374.8,161.8 375.3,161.1 375.9,161.0 376.4,161.5 376.9,162.6 377.5,162.1 378.0,161.1 378.5,159.8 379.1,160.3 379.6,160.6 380.1,161.1 380.6,160.4 381.2,160.7 381.7,161.2 382.2,161.5 382.8,159.9 383.3,161.4 383.8,159.6 384.3,159.3 384.9,160.7 385.4,160.0 385.9,160.3 386.5,160.8 387.0,159.4 387.5,159.8 388.0,159.6 388.6,160.4 389.1,160.1 389.6,159.7 390.2,162.4 390.7,159.6 391.2,161.2 391.7,160.4 392.3,161.1 392.8,159.8 393.3,158.3 393.9,160.2 394.4,158.1 394.9,158.8 395.4,160.9 396.0,159.5 396.5,160.2 397.0,160.5 397.6,159.8 398.1,156.1 398.6,159.0 399.1,160.4 399.7,159.9 400.2,159.7 400.7,159.7 401.3,159.5 401.8,160.4 402.3,158.8 402.8,159.7 403.4,159.7 403.9,159.4 404.4,159.0 405.0,157.8 405.5,157.6 406.0,158.4 406.5,158.5 407.1,158.5 407.6,158.1 408.1,160.3 408.7,159.0 409.2,158.5 409.7,159.4 410.2,158.1 410.8,158.9 411.3,159.5 411.8,158.3 412.4,157.8 412.9,157.4 413.4,158.1 413.9,157.4 414.5,155.9 415.0,158.2 415.5,157.8 416.1,158.2 416.6,158.5 417.1,158.2 417.6,158.1 418.2,157.2 418.7,157.0 419.2,158.0 419.8,157.2 420.3,157.3 420.8,157.9 421.3,157.4 421.9,158.6 422.4,156.8 422.9,155.5 423.5,155.1 424.0,155.6 424.5,157.5 425.0,155.9 425.6,158.5 426.1,158.1 426.6,156.6 427.2,158.4 427.7,156.8 428.2,156.6 428.7,157.2 429.3,158.0 429.8,156.6 430.3,158.1 430.9,156.4 431.4,155.9 431.9,158.2 432.5,156.6 433.0,156.5 433.5,157.3 434.0,157.4 434.6,157.3 435.1,157.7 435.6,159.0 436.2,157.9 436.7,156.3 437.2,158.2 437.7,158.1 438.3,156.3 438.8,156.4 439.3,158.4 439.9,157.9 440.4,156.2 440.9,157.7 441.4,156.8 442.0,156.7 442.5,156.0 443.0,158.6 443.6,158.1 444.1,157.1 444.6,154.3 445.1,155.6 445.7,157.1 446.2,155.1 446.7,155.1 447.3,155.9 447.8,155.9 448.3,155.5 448.8,154.7 449.4,155.3 449.9,154.9 450.4,154.7 451.0,155.6 451.5,156.3 452.0,154.8 452.5,155.9 453.1,155.8 453.6,154.3 454.1,154.9 454.7,154.8 455.2,156.3 455.7,155.0 456.2,156.5 456.8,156.4 457.3,156.7 457.8,154.8 458.4,154.8 458.9,156.4 459.4,156.6 459.9,155.3 460.5,155.4 461.0,153.3 461.5,156.4 462.1,157.1 462.6,155.9 463.1,155.1 463.6,154.3 464.2,153.6 464.7,152.0 465.2,154.9 465.8,155.0 466.3,156.0 466.8,154.2 467.3,153.1 467.9,154.4 468.4,152.8 468.9,154.4 469.5,153.1 470.0,153.8 470.5,154.1 471.0,153.2 471.6,154.0" fill="none" stroke="#000" stroke-width="1.35" stroke-linejoin="round"/>
<polyline points="87.2,202.7 88.0,202.2 88.7,203.3 89.5,202.1 90.3,202.4 91.0,202.2 91.8,202.1 92.6,202.2 93.4,202.5 94.1,203.1 94.9,201.8 95.7,202.0 96.4,202.3 97.2,201.8 98.0,201.2 98.7,200.0 99.5,200.7 100.3,201.4 101.0,201.7 101.8,202.8 102.6,202.2 103.3,202.1 104.1,202.0 104.9,201.2 105.7,200.5 106.4,200.1 107.2,200.7 108.0,200.7 108.7,200.8 109.5,201.1 110.3,200.3 111.0,201.3 111.8,200.1 112.6,200.8 113.3,200.0 114.1,200.0 114.9,199.2 115.7,200.4 116.4,200.5 117.2,199.9 118.0,199.8 118.7,199.5 119.5,199.9 120.3,198.9 121.0,198.9 121.8,198.6 122.6,199.1 123.3,198.2 124.1,198.3 124.9,197.4 125.7,197.8 126.4,198.1 127.2,196.8 128.0,197.2 128.7,196.7 129.5,196.1 130.3,197.4 131.0,196.1 131.8,196.5 132.6,196.9 133.3,196.7 134.1,196.1 134.9,195.1 135.6,195.6 136.4,195.8 137.2,194.8 138.0,195.8 138.7,196.3 139.5,195.1 140.3,194.8 141.0,194.3 141.8,194.3 142.6,193.5 143.3,194.2 144.1,194.6 144.9,194.2 145.6,194.3 146.4,193.3 147.2,193.2 148.0,193.3 148.7,194.9 149.5,194.0 150.3,193.2 151.0,192.9 151.8,193.5 152.6,191.4 153.3,191.8 154.1,192.3 154.9,191.6 155.6,192.0 156.4,191.8 157.2,190.4 158.0,191.2 158.7,191.5 159.5,191.0 160.3,191.1 161.0,191.2 161.8,190.9 162.6,192.3 163.3,190.4 164.1,191.2 164.9,191.4 165.6,190.6 166.4,190.3 167.2,190.0 167.9,190.7 168.7,190.0 169.5,188.9 170.3,191.2 171.0,189.7 171.8,189.4 172.6,189.3 173.3,188.8 174.1,189.3 174.9,189.0 175.6,189.4 176.4,190.2 177.2,188.3 177.9,188.8 178.7,187.9 179.5,188.2 180.3,187.5 181.0,188.6 181.8,188.2 182.6,188.4 183.3,187.7 184.1,187.8 184.9,187.0 185.6,188.3 186.4,187.4 187.2,187.8 187.9,187.3 188.7,187.3 189.5,187.1 190.3,187.7 191.0,187.3 191.8,186.1 192.6,186.8 193.3,185.2 194.1,186.5 194.9,186.9 195.6,186.7 196.4,186.6 197.2,186.6 197.9,186.2 198.7,186.0 199.5,185.5 200.2,185.4 201.0,185.0 201.8,185.5 202.6,185.3 203.3,186.5 204.1,185.6 204.9,185.1 205.6,185.4 206.4,184.2 207.2,183.7 207.9,184.8 208.7,184.6 209.5,184.8 210.2,186.0 211.0,184.8 211.8,184.7 212.6,184.2 213.3,184.7 214.1,184.4 214.9,185.0 215.6,184.3 216.4,183.8 217.2,183.7 217.9,183.0 218.7,183.3 219.5,183.4 220.2,182.5 221.0,183.0 221.8,182.4 222.6,183.8 223.3,183.7 224.1,182.9 224.9,182.5 225.6,183.8 226.4,182.7 227.2,182.5 227.9,183.3 228.7,184.2 229.5,183.2 230.2,183.9 231.0,182.3 231.8,183.0 232.5,181.7 233.3,182.2 234.1,182.9 234.9,182.2 235.6,182.0 236.4,181.2 237.2,180.7 237.9,181.6 238.7,181.0 239.5,181.6 240.2,180.9 241.0,180.4 241.8,181.8 242.5,180.4 243.3,180.1 244.1,180.9 244.9,181.3 245.6,181.4 246.4,180.6 247.2,181.3 247.9,181.1 248.7,180.7 249.5,180.9 250.2,180.6 251.0,180.8 251.8,179.7 252.5,180.9 253.3,179.8 254.1,180.6 254.9,181.1 255.6,180.2 256.4,180.1 257.2,181.3 257.9,179.8 258.7,180.2 259.5,179.8 260.2,178.9 261.0,180.1 261.8,179.3 262.5,179.8 263.3,178.5 264.1,179.1 264.8,179.6 265.6,179.2 266.4,178.9 267.2,178.1 267.9,177.8 268.7,177.3 269.5,177.7 270.2,177.7 271.0,177.7 271.8,177.9 272.5,177.8 273.3,177.1 274.1,177.1 274.8,177.8 275.6,178.4 276.4,178.5 277.2,177.8 277.9,179.3 278.7,178.7 279.5,178.1 280.2,178.9 281.0,178.8 281.8,176.9 282.5,176.8 283.3,176.7 284.1,175.9 284.8,176.0 285.6,177.6 286.4,176.3 287.2,178.0 287.9,178.0 288.7,178.0 289.5,177.2 290.2,177.7 291.0,176.6 291.8,176.0 292.5,176.5 293.3,176.9 294.1,176.3 294.8,177.4 295.6,175.9 296.4,176.3 297.1,175.5 297.9,175.8 298.7,175.7 299.5,175.9 300.2,176.1 301.0,175.7 301.8,175.7 302.5,175.5 303.3,176.1 304.1,175.8 304.8,175.4 305.6,175.3 306.4,175.2 307.1,175.1 307.9,175.6 308.7,175.2 309.5,175.8 310.2,177.0 311.0,175.6 311.8,176.4 312.5,175.9 313.3,175.3 314.1,174.6 314.8,175.3 315.6,175.1 316.4,175.9 317.1,175.9 317.9,176.6 318.7,175.5 319.5,175.2 320.2,174.8 321.0,173.7 321.8,174.2 322.5,173.6 323.3,173.8 324.1,173.8 324.8,173.4 325.6,174.0 326.4,172.6 327.1,173.9 327.9,173.2 328.7,173.1 329.4,173.0 330.2,174.0 331.0,173.4 331.8,173.6 332.5,174.1 333.3,173.5 334.1,173.7 334.8,173.8 335.6,173.0 336.4,173.4 337.1,172.8 337.9,173.6 338.7,172.9 339.4,173.0 340.2,172.7 341.0,172.5 341.8,172.4 342.5,172.4 343.3,171.7 344.1,171.9 344.8,171.4 345.6,171.8 346.4,171.7 347.1,172.0 347.9,172.4 348.7,172.4 349.4,172.2 350.2,172.9 351.0,173.1 351.7,171.7 352.5,172.2 353.3,172.6 354.1,170.9 354.8,171.8 355.6,172.2 356.4,172.0 357.1,172.5 357.9,171.6 358.7,173.4 359.4,173.0 360.2,172.0 361.0,171.8 361.7,170.3 362.5,171.5 363.3,171.0 364.1,170.7 364.8,170.8 365.6,170.7 366.4,171.2 367.1,170.6 367.9,171.8 368.7,171.8 369.4,171.6 370.2,172.3 371.0,172.1 371.7,172.0 372.5,171.9 373.3,171.8 374.1,171.4 374.8,172.0 375.6,171.1 376.4,172.4 377.1,171.4 377.9,171.8 378.7,171.7 379.4,172.3 380.2,171.8 381.0,170.1 381.7,171.0 382.5,170.0 383.3,170.2 384.0,169.5 384.8,169.6 385.6,169.4 386.4,170.8 387.1,170.4 387.9,170.5 388.7,171.3 389.4,171.4 390.2,170.4 391.0,170.8 391.7,169.8 392.5,171.3 393.3,170.4 394.0,170.3 394.8,171.3 395.6,171.3 396.4,170.6 397.1,171.6 397.9,171.2 398.7,169.8 399.4,169.6 400.2,168.6 401.0,169.1 401.7,169.1 402.5,169.2 403.3,170.0 404.0,171.7 404.8,170.4 405.6,169.9 406.4,170.3 407.1,168.4 407.9,169.8 408.7,168.8 409.4,170.1 410.2,169.4 411.0,169.8 411.7,169.5 412.5,168.9 413.3,168.7 414.0,168.9 414.8,169.2 415.6,170.2 416.3,169.4 417.1,169.1 417.9,169.3 418.7,169.6 419.4,169.6 420.2,169.3 421.0,169.1 421.7,169.8 422.5,170.0 423.3,168.4 424.0,170.1 424.8,169.2 425.6,170.0 426.3,169.9 427.1,168.8 427.9,168.6 428.7,166.8 429.4,166.8 430.2,167.9 431.0,167.3 431.7,167.5 432.5,168.0 433.3,168.2 434.0,167.1 434.8,168.2 435.6,167.8 436.3,168.5 437.1,168.3 437.9,168.7 438.7,168.3 439.4,168.0 440.2,168.6 441.0,169.1 441.7,168.4 442.5,168.7 443.3,168.8 444.0,167.8 444.8,167.6 445.6,168.6 446.3,168.9 447.1,167.9 447.9,168.9 448.6,167.9 449.4,166.2 450.2,166.4 451.0,167.7 451.7,167.9 452.5,167.3 453.3,167.9 454.0,167.9 454.8,167.5 455.6,167.4 456.3,167.9 457.1,166.5 457.9,167.0 458.6,167.6 459.4,167.4 460.2,166.4 461.0,166.5 461.7,166.5 462.5,167.1 463.3,166.3 464.0,166.8 464.8,166.1 465.6,167.2 466.3,166.8 467.1,166.5 467.9,165.8 468.6,167.6 469.4,167.3 470.2,166.2 471.0,165.5 471.7,166.1" fill="none" stroke="#000" stroke-width="1.35" stroke-linejoin="round"/>
<polyline points="87.2,200.2 88.0,200.7 88.7,200.7 89.5,201.1 90.3,201.7 91.0,200.7 91.8,202.1 92.6,202.0 93.4,203.1 94.1,203.3 94.9,203.7 95.7,204.0 96.4,204.5 97.2,204.0 98.0,203.2 98.7,204.6 99.5,205.1 100.3,206.1 101.0,205.2 101.8,205.9 102.6,206.6 103.3,206.2 104.1,207.1 104.9,206.9 105.7,206.9 106.4,207.0 107.2,207.2 108.0,207.4 108.7,206.4 109.5,207.0 110.3,208.5 111.0,206.9 111.8,206.3 112.6,206.7 113.3,205.8 114.1,206.7 114.9,205.7 115.7,207.3 116.4,207.4 117.2,207.0 118.0,205.4 118.7,206.3 119.5,206.9 120.3,206.1 121.0,206.0 121.8,204.7 122.6,205.8 123.3,205.3 124.1,204.2 124.9,204.3 125.7,204.1 126.4,203.9 127.2,205.0 128.0,204.1 128.7,203.6 129.5,203.0 130.3,203.4 131.0,203.4 131.8,203.4 132.6,201.9 133.3,201.5 134.1,201.1 134.9,202.3 135.6,200.9 136.4,202.6 137.2,202.0 138.0,201.9 138.7,201.9 139.5,201.8 140.3,201.2 141.0,200.8 141.8,201.1 142.6,200.5 143.3,200.7 144.1,200.3 144.9,198.8 145.6,199.3 146.4,199.0 147.2,199.1 148.0,199.3 148.7,198.6 149.5,199.2 150.3,197.8 151.0,197.8 151.8,197.8 152.6,198.8 153.3,199.8 154.1,198.5 154.9,198.0 155.6,197.8 156.4,198.2 157.2,198.4 158.0,198.0 158.7,198.5 159.5,197.4 160.3,197.4 161.0,197.9 161.8,196.7 162.6,197.0 163.3,197.2 164.1,197.2 164.9,197.6 165.6,196.7 166.4,197.3 167.2,197.1 167.9,197.4 168.7,196.6 169.5,196.1 170.3,196.9 171.0,197.2 171.8,196.5 172.6,196.4 173.3,196.8 174.1,195.6 174.9,195.1 175.6,194.8 176.4,196.3 177.2,195.6 177.9,194.9 178.7,195.5 179.5,194.0 180.3,196.3 181.0,193.7 181.8,195.2 182.6,196.6 183.3,195.7 184.1,195.6 184.9,194.9 185.6,194.9 186.4,194.7 187.2,194.9 187.9,194.9 188.7,194.5 189.5,195.0 190.3,195.5 191.0,194.4 191.8,194.0 192.6,193.7 193.3,192.8 194.1,193.1 194.9,194.4 195.6,194.2 196.4,194.9 197.2,195.1 197.9,194.0 198.7,194.7 199.5,194.0 200.2,193.6 201.0,193.9 201.8,194.2 202.6,194.3 203.3,193.6 204.1,193.4 204.9,193.4 205.6,193.3 206.4,194.0 207.2,193.3 207.9,194.4 208.7,193.4 209.5,193.8 210.2,194.8 211.0,192.8 211.8,194.1 212.6,192.6 213.3,192.5 214.1,193.0 214.9,193.4 215.6,193.3 216.4,193.2 217.2,193.6 217.9,192.7 218.7,193.5 219.5,192.9 220.2,192.7 221.0,193.1 221.8,192.2 222.6,193.2 223.3,193.9 224.1,193.1 224.9,193.3 225.6,192.7 226.4,193.6 227.2,192.2 227.9,191.1 228.7,190.7 229.5,189.9 230.2,190.9 231.0,191.5 231.8,191.4 232.5,191.2 233.3,191.7 234.1,192.3 234.9,192.7 235.6,191.2 236.4,191.1 237.2,191.1 237.9,189.7 238.7,190.2 239.5,190.6 240.2,191.0 241.0,191.8 241.8,192.6 242.5,192.0 243.3,191.0 244.1,190.5 244.9,189.9 245.6,191.5 246.4,190.8 247.2,190.6 247.9,190.2 248.7,189.9 249.5,191.0 250.2,191.1 251.0,191.3 251.8,189.9 252.5,191.0 253.3,189.7 254.1,189.6 254.9,190.4 255.6,192.5 256.4,191.4 257.2,190.9 257.9,191.7 258.7,189.8 259.5,189.4 260.2,189.0 261.0,189.9 261.8,190.6 262.5,191.0 263.3,190.5 264.1,190.3 264.8,189.6 265.6,189.9 266.4,190.0 267.2,191.6 267.9,190.0 268.7,190.7 269.5,189.6 270.2,190.1 271.0,189.6 271.8,189.7 272.5,190.3 273.3,189.3 274.1,189.3 274.8,188.5 275.6,189.6 276.4,188.6 277.2,188.3 277.9,188.6 278.7,187.7 279.5,188.7 280.2,187.3 281.0,187.8 281.8,187.7 282.5,188.8 283.3,189.3 284.1,188.8 284.8,189.3 285.6,188.0 286.4,188.4 287.2,187.9 287.9,188.0 288.7,188.3 289.5,187.0 290.2,187.3 291.0,187.6 291.8,186.6 292.5,188.3 293.3,187.8 294.1,188.9 294.8,188.9 295.6,187.2 296.4,188.3 297.1,187.4 297.9,187.3 298.7,187.3 299.5,186.4 300.2,188.1 301.0,188.0 301.8,187.1 302.5,187.9 303.3,187.4 304.1,186.1 304.8,186.2 305.6,186.5 306.4,186.2 307.1,186.3 307.9,186.6 308.7,185.3 309.5,185.6 310.2,185.9 311.0,187.1 311.8,187.9 312.5,186.6 313.3,186.4 314.1,185.1 314.8,184.4 315.6,184.2 316.4,185.4 317.1,184.6 317.9,185.6 318.7,185.5 319.5,185.1 320.2,184.7 321.0,186.3 321.8,185.3 322.5,185.9 323.3,185.8 324.1,185.7 324.8,185.6 325.6,185.9 326.4,185.0 327.1,184.9 327.9,184.9 328.7,184.2 329.4,185.4 330.2,185.2 331.0,185.4 331.8,186.3 332.5,185.0 333.3,185.9 334.1,185.2 334.8,185.2 335.6,184.8 336.4,184.4 337.1,184.7 337.9,185.4 338.7,184.1 339.4,184.6 340.2,184.8 341.0,184.8 341.8,184.7 342.5,183.9 343.3,185.7 344.1,184.4 344.8,184.7 345.6,184.8 346.4,185.0 347.1,184.6 347.9,185.5 348.7,184.3 349.4,183.2 350.2,184.8 351.0,183.4 351.7,183.6 352.5,183.9 353.3,184.1 354.1,183.8 354.8,184.4 355.6,183.7 356.4,183.4 357.1,184.2 357.9,184.3 358.7,183.5 359.4,183.5 360.2,183.2 361.0,183.0 361.7,183.0 362.5,184.1 363.3,184.4 364.1,182.9 364.8,183.2 365.6,183.9 366.4,183.4 367.1,182.7 367.9,182.4 368.7,182.7 369.4,182.6 370.2,183.8 371.0,183.2 371.7,183.1 372.5,183.3 373.3,182.1 374.1,182.0 374.8,181.9 375.6,183.4 376.4,182.3 377.1,183.5 377.9,183.0 378.7,184.1 379.4,183.4 380.2,182.9 381.0,182.8 381.7,182.6 382.5,183.8 383.3,182.2 384.0,182.9 384.8,183.4 385.6,183.4 386.4,183.2 387.1,182.9 387.9,183.4 388.7,183.8 389.4,183.5 390.2,182.0 391.0,181.8 391.7,181.9 392.5,181.4 393.3,181.5 394.0,181.8 394.8,183.2 395.6,182.6 396.4,182.2 397.1,182.3 397.9,181.8 398.7,181.0 399.4,182.2 400.2,182.5 401.0,182.8 401.7,182.2 402.5,182.0 403.3,182.5 404.0,183.1 404.8,182.1 405.6,182.4 406.4,181.6 407.1,182.4 407.9,182.4 408.7,181.9 409.4,182.0 410.2,182.3 411.0,181.0 411.7,182.5 412.5,181.8 413.3,181.0 414.0,182.3 414.8,181.4 415.6,182.2 416.3,181.9 417.1,181.5 417.9,181.1 418.7,182.3 419.4,182.0 420.2,181.7 421.0,182.6 421.7,181.8 422.5,181.4 423.3,182.4 424.0,182.4 424.8,182.6 425.6,181.5 426.3,181.2 427.1,180.8 427.9,181.3 428.7,180.1 429.4,181.6 430.2,182.5 431.0,180.7 431.7,181.5 432.5,181.1 433.3,182.2 434.0,181.3 434.8,181.4 435.6,181.8 436.3,182.8 437.1,181.5 437.9,181.5 438.7,180.6 439.4,181.6 440.2,181.5 441.0,180.8 441.7,181.0 442.5,180.2 443.3,181.7 444.0,181.5 444.8,181.9 445.6,181.0 446.3,181.0 447.1,181.1 447.9,180.8 448.6,181.7 449.4,181.6 450.2,181.8 451.0,182.5 451.7,181.3 452.5,180.3 453.3,180.8 454.0,180.1 454.8,180.1 455.6,180.9 456.3,181.4 457.1,180.4 457.9,180.3 458.6,180.2 459.4,180.4 460.2,180.7 461.0,180.6 461.7,180.7 462.5,180.8 463.3,180.5 464.0,180.8 464.8,180.1 465.6,179.2 466.3,180.0 467.1,181.4 467.9,180.2 468.6,181.9 469.4,179.8 470.2,180.7 471.0,181.1 471.7,181.6" fill="none" stroke="#000" stroke-width="1.35" stroke-linejoin="round"/>
<polyline points="87.2,205.8 88.0,205.7 88.7,205.2 89.5,205.9 90.3,206.2 91.0,206.5 91.8,206.1 92.6,206.3 93.4,204.8 94.1,205.0 94.9,204.2 95.7,204.1 96.4,203.9 97.2,204.1 98.0,204.2 98.7,204.2 99.5,205.3 100.3,204.0 101.0,204.9 101.8,204.9 102.6,205.2 103.3,204.0 104.1,204.6 104.9,203.6 105.7,202.7 106.4,202.9 107.2,202.7 108.0,203.3 108.7,204.0 109.5,202.4 110.3,202.6 111.0,202.4 111.8,202.8 112.6,203.0 113.3,203.1 114.1,202.5 114.9,202.0 115.7,203.2 116.4,202.2 117.2,202.6 118.0,202.2 118.7,201.9 119.5,201.4 120.3,201.2 121.0,200.5 121.8,201.5 122.6,200.5 123.3,200.8 124.1,201.6 124.9,200.7 125.7,201.3 126.4,200.2 127.2,200.0 128.0,200.8 128.7,200.1 129.5,200.0 130.3,200.1 131.0,200.6 131.8,200.2 132.6,200.4 133.3,199.7 134.1,200.5 134.9,199.4 135.6,199.6 136.4,199.7 137.2,198.8 138.0,199.3 138.7,198.9 139.5,199.0 140.3,198.6 141.0,199.0 141.8,198.2 142.6,198.1 143.3,199.0 144.1,198.9 144.9,198.8 145.6,199.1 146.4,198.1 147.2,197.1 148.0,198.1 148.7,198.8 149.5,198.0 150.3,198.2 151.0,197.5 151.8,198.1 152.6,197.8 153.3,198.4 154.1,196.9 154.9,197.0 155.6,197.0 156.4,196.8 157.2,197.5 158.0,196.9 158.7,198.1 159.5,197.3 160.3,197.8 161.0,197.8 161.8,196.0 162.6,197.4 163.3,195.6 164.1,197.4 164.9,196.9 165.6,195.9 166.4,197.8 167.2,197.1 167.9,196.0 168.7,196.9 169.5,196.9 170.3,196.8 171.0,197.5 171.8,196.8 172.6,196.7 173.3,197.2 174.1,196.6 174.9,196.4 175.6,195.4 176.4,196.7 177.2,196.2 177.9,196.2 178.7,196.5 179.5,196.4 180.3,197.0 181.0,197.6 181.8,197.8 182.6,196.7 183.3,195.6 184.1,195.2 184.9,195.6 185.6,195.7 186.4,195.7 187.2,195.2 187.9,195.5 188.7,195.6 189.5,194.7 190.3,195.7 191.0,196.2 191.8,196.4 192.6,195.5 193.3,195.9 194.1,194.9 194.9,195.8 195.6,195.1 196.4,194.8 197.2,194.4 197.9,195.6 198.7,194.4 199.5,195.0 200.2,194.6 201.0,195.0 201.8,195.1 202.6,195.3 203.3,196.6 204.1,194.7 204.9,194.6 205.6,195.3 206.4,194.6 207.2,194.1 207.9,194.9 208.7,194.7 209.5,193.9 210.2,194.8 211.0,194.7 211.8,194.9 212.6,194.7 213.3,194.3 214.1,194.3 214.9,195.1 215.6,194.8 216.4,194.7 217.2,195.1 217.9,194.5 218.7,195.0 219.5,195.1 220.2,194.8 221.0,195.3 221.8,194.4 222.6,194.6 223.3,194.6 224.1,194.9 224.9,194.6 225.6,194.7 226.4,194.7 227.2,194.4 227.9,194.6 228.7,193.2 229.5,192.9 230.2,193.2 231.0,193.1 231.8,193.7 232.5,194.2 233.3,193.6 234.1,192.3 234.9,193.0 235.6,193.1 236.4,194.0 237.2,193.6 237.9,192.9 238.7,194.4 239.5,194.2 240.2,193.9 241.0,193.9 241.8,193.4 242.5,193.8 243.3,194.4 244.1,194.4 244.9,192.4 245.6,193.7 246.4,193.1 247.2,193.2 247.9,193.9 248.7,193.4 249.5,194.2 250.2,193.4 251.0,194.1 251.8,193.3 252.5,193.3 253.3,193.9 254.1,193.8 254.9,193.7 255.6,193.5 256.4,192.9 257.2,192.2 257.9,192.7 258.7,193.7 259.5,192.6 260.2,193.8 261.0,192.9 261.8,192.9 262.5,193.5 263.3,193.0 264.1,193.1 264.8,192.2 265.6,192.8 266.4,193.5 267.2,193.2 267.9,193.0 268.7,192.6 269.5,193.5 270.2,193.6 271.0,191.6 271.8,193.1 272.5,192.5 273.3,192.3 274.1,191.9 274.8,192.8 275.6,192.9 276.4,192.5 277.2,192.3 277.9,192.7 278.7,192.9 279.5,193.1 280.2,194.1 281.0,192.1 281.8,192.8 282.5,192.7 283.3,191.2 284.1,191.9 284.8,191.5 285.6,191.7 286.4,191.2 287.2,191.5 287.9,192.1 288.7,191.4 289.5,192.5 290.2,193.4 291.0,193.1 291.8,192.4 292.5,193.0 293.3,192.1 294.1,191.3 294.8,191.1 295.6,192.3 296.4,191.7 297.1,193.1 297.9,192.4 298.7,191.9 299.5,191.9 300.2,191.6 301.0,191.8 301.8,192.1 302.5,192.3 303.3,192.3 304.1,192.2 304.8,191.8 305.6,191.1 306.4,190.9 307.1,191.5 307.9,190.9 308.7,190.8 309.5,191.2 310.2,191.3 311.0,191.8 311.8,192.4 312.5,192.2 313.3,191.4 314.1,192.5 314.8,192.0 315.6,191.6 316.4,191.9 317.1,190.9 317.9,192.1 318.7,191.4 319.5,191.6 320.2,191.9 321.0,191.4 321.8,192.8 322.5,192.2 323.3,191.5 324.1,191.6 324.8,191.8 325.6,191.0 326.4,191.7 327.1,190.9 327.9,190.5 328.7,191.1 329.4,191.5 330.2,191.9 331.0,191.7 331.8,191.0 332.5,190.7 333.3,190.5 334.1,191.9 334.8,191.6 335.6,191.6 336.4,191.9 337.1,191.4 337.9,192.0 338.7,191.3 339.4,191.1 340.2,190.4 341.0,190.8 341.8,191.0 342.5,190.4 343.3,190.9 344.1,190.5 344.8,192.4 345.6,191.8 346.4,192.6 347.1,191.6 347.9,191.6 348.7,191.9 349.4,192.0 350.2,192.4 351.0,192.5 351.7,191.8 352.5,191.3 353.3,191.5 354.1,191.4 354.8,192.0 355.6,191.0 356.4,191.7 357.1,191.8 357.9,191.7 358.7,191.7 359.4,191.6 360.2,190.8 361.0,191.0 361.7,190.5 362.5,190.4 363.3,191.9 364.1,190.9 364.8,190.4 365.6,190.5 366.4,191.4 367.1,191.9 367.9,191.6 368.7,191.7 369.4,192.2 370.2,191.2 371.0,191.5 371.7,191.7 372.5,190.9 373.3,190.6 374.1,189.7 374.8,189.8 375.6,190.9 376.4,191.5 377.1,192.7 377.9,193.1 378.7,191.9 379.4,191.5 380.2,191.7 381.0,191.2 381.7,192.2 382.5,193.2 383.3,191.6 384.0,191.4 384.8,192.3 385.6,191.8 386.4,191.5 387.1,191.3 387.9,191.8 388.7,191.3 389.4,191.1 390.2,191.3 391.0,191.8 391.7,191.2 392.5,191.4 393.3,191.5 394.0,192.7 394.8,191.4 395.6,193.1 396.4,192.4 397.1,192.2 397.9,191.5 398.7,191.9 399.4,190.9 400.2,190.7 401.0,190.4 401.7,191.2 402.5,192.0 403.3,192.5 404.0,191.2 404.8,192.0 405.6,190.6 406.4,190.5 407.1,190.3 407.9,190.7 408.7,191.0 409.4,191.3 410.2,191.7 411.0,191.6 411.7,191.7 412.5,191.5 413.3,190.4 414.0,190.7 414.8,190.7 415.6,190.6 416.3,190.4 417.1,190.4 417.9,190.1 418.7,191.5 419.4,190.9 420.2,191.7 421.0,191.4 421.7,191.8 422.5,190.6 423.3,190.3 424.0,190.3 424.8,190.9 425.6,191.0 426.3,191.2 427.1,190.7 427.9,190.9 428.7,191.1 429.4,191.0 430.2,191.6 431.0,191.5 431.7,191.7 432.5,190.6 433.3,190.9 434.0,191.1 434.8,191.0 435.6,191.5 436.3,191.6 437.1,192.4 437.9,191.1 438.7,191.1 439.4,190.8 440.2,190.8 441.0,190.3 441.7,191.2 442.5,190.1 443.3,190.7 444.0,190.2 444.8,190.1 445.6,191.0 446.3,190.7 447.1,191.0 447.9,190.2 448.6,191.2 449.4,191.9 450.2,191.3 451.0,190.6 451.7,191.3 452.5,190.1 453.3,190.3 454.0,189.9 454.8,190.4 455.6,191.8 456.3,191.8 457.1,191.4 457.9,190.8 458.6,190.5 459.4,190.6 460.2,191.9 461.0,192.6 461.7,192.4 462.5,191.2 463.3,190.7 464.0,191.1 464.8,190.7 465.6,190.7 466.3,190.5 467.1,191.5 467.9,190.4 468.6,191.1 469.4,190.4 470.2,191.0 471.0,190.0 471.7,189.8" fill="none" stroke="#000" stroke-width="1.35" stroke-linejoin="round"/>
<polyline points="87.2,200.6 88.0,199.8 88.7,200.0 89.5,200.4 90.3,199.8 91.0,200.4 91.8,200.5 92.6,201.0 93.4,200.7 94.1,201.1 94.9,200.9 95.7,201.1 96.4,201.2 97.2,201.4 98.0,201.6 98.7,200.4 99.5,202.1 100.3,200.4 101.0,200.2 101.8,200.4 102.6,200.6 103.3,201.3 104.1,202.2 104.9,202.5 105.7,202.3 106.4,202.9 107.2,202.0 108.0,202.0 108.7,203.6 109.5,202.6 110.3,201.9 111.0,201.9 111.8,202.1 112.6,202.3 113.3,202.2 114.1,202.5 114.9,202.1 115.7,202.6 116.4,202.2 117.2,202.8 118.0,202.4 118.7,202.7 119.5,201.8 120.3,201.8 121.0,202.8 121.8,203.8 122.6,203.2 123.3,202.9 124.1,202.5 124.9,202.4 125.7,202.9 126.4,204.6 127.2,203.6 128.0,204.5 128.7,204.5 129.5,203.7 130.3,204.1 131.0,204.8 131.8,204.4 132.6,203.8 133.3,203.8 134.1,203.2 134.9,203.8 135.6,204.2 136.4,203.0 137.2,203.8 138.0,203.0 138.7,203.4 139.5,203.6 140.3,203.8 141.0,203.6 141.8,203.9 142.6,204.1 143.3,204.1 144.1,204.5 144.9,204.4 145.6,204.3 146.4,204.3 147.2,204.2 148.0,204.2 148.7,203.5 149.5,203.9 150.3,203.9 151.0,203.9 151.8,203.5 152.6,204.2 153.3,204.4 154.1,204.4 154.9,204.4 155.6,204.5 156.4,205.0 157.2,205.7 158.0,205.2 158.7,205.7 159.5,203.9 160.3,203.9 161.0,204.0 161.8,204.4 162.6,204.2 163.3,204.6 164.1,205.1 164.9,205.4 165.6,205.1 166.4,205.5 167.2,204.4 167.9,204.2 168.7,204.9 169.5,204.1 170.3,204.4 171.0,204.9 171.8,205.4 172.6,205.2 173.3,205.0 174.1,204.1 174.9,204.0 175.6,204.0 176.4,204.4 177.2,204.4 177.9,204.9 178.7,204.4 179.5,205.1 180.3,204.3 181.0,204.4 181.8,204.9 182.6,205.8 183.3,205.1 184.1,205.2 184.9,204.4 185.6,204.6 186.4,204.9 187.2,204.8 187.9,204.4 188.7,204.5 189.5,204.9 190.3,204.6 191.0,204.7 191.8,204.7 192.6,205.1 193.3,205.0 194.1,204.7 194.9,205.2 195.6,205.1 196.4,204.1 197.2,205.3 197.9,204.8 198.7,205.2 199.5,205.1 200.2,205.1 201.0,203.9 201.8,205.7 202.6,205.9 203.3,205.4 204.1,205.2 204.9,206.4 205.6,205.0 206.4,204.4 207.2,204.9 207.9,204.1 208.7,204.5 209.5,204.9 210.2,204.9 211.0,204.5 211.8,204.6 212.6,202.9 213.3,203.8 214.1,204.3 214.9,204.2 215.6,204.3 216.4,204.0 217.2,204.8 217.9,204.1 218.7,204.9 219.5,204.8 220.2,205.2 221.0,205.7 221.8,204.7 222.6,205.7 223.3,205.3 224.1,205.3 224.9,204.9 225.6,205.2 226.4,205.1 227.2,206.0 227.9,205.3 228.7,205.5 229.5,205.3 230.2,205.0 231.0,206.0 231.8,204.7 232.5,204.8 233.3,205.7 234.1,205.1 234.9,205.2 235.6,205.9 236.4,205.3 237.2,205.9 237.9,205.6 238.7,205.8 239.5,205.1 240.2,204.3 241.0,204.2 241.8,204.4 242.5,204.3 243.3,204.8 244.1,205.1 244.9,205.0 245.6,205.3 246.4,205.5 247.2,204.9 247.9,206.1 248.7,205.4 249.5,206.4 250.2,205.7 251.0,205.4 251.8,205.0 252.5,205.4 253.3,204.5 254.1,204.7 254.9,205.1 255.6,204.7 256.4,204.4 257.2,205.3 257.9,204.9 258.7,205.0 259.5,204.5 260.2,204.7 261.0,204.1 261.8,205.2 262.5,205.2 263.3,204.2 264.1,205.3 264.8,204.7 265.6,205.7 266.4,206.0 267.2,205.6 267.9,205.6 268.7,205.1 269.5,206.2 270.2,205.6 271.0,206.0 271.8,205.8 272.5,206.2 273.3,204.6 274.1,204.8 274.8,205.4 275.6,205.2 276.4,205.3 277.2,204.3 277.9,204.5 278.7,204.7 279.5,204.3 280.2,204.5 281.0,204.4 281.8,204.6 282.5,205.1 283.3,205.0 284.1,205.9 284.8,205.3 285.6,205.2 286.4,205.0 287.2,205.2 287.9,205.7 288.7,205.5 289.5,204.9 290.2,205.6 291.0,205.4 291.8,204.8 292.5,204.8 293.3,205.4 294.1,205.6 294.8,206.1 295.6,205.6 296.4,205.0 297.1,204.9 297.9,205.2 298.7,205.8 299.5,206.1 300.2,205.7 301.0,205.9 301.8,205.5 302.5,205.2 303.3,205.5 304.1,204.6 304.8,205.3 305.6,204.9 306.4,204.9 307.1,204.7 307.9,205.3 308.7,205.0 309.5,204.4 310.2,205.5 311.0,205.1 311.8,205.0 312.5,206.1 313.3,206.1 314.1,205.6 314.8,205.4 315.6,205.3 316.4,205.4 317.1,205.8 317.9,205.7 318.7,204.9 319.5,205.2 320.2,204.7 321.0,204.9 321.8,204.4 322.5,204.2 323.3,205.5 324.1,204.8 324.8,204.5 325.6,205.1 326.4,204.9 327.1,205.0 327.9,205.0 328.7,204.8 329.4,204.9 330.2,205.4 331.0,205.4 331.8,205.5 332.5,205.8 333.3,204.8 334.1,204.2 334.8,204.9 335.6,203.9 336.4,204.0 337.1,205.2 337.9,204.5 338.7,206.1 339.4,206.4 340.2,205.0 341.0,205.4 341.8,206.1 342.5,204.7 343.3,205.5 344.1,206.0 344.8,205.8 345.6,205.4 346.4,204.6 347.1,205.4 347.9,204.4 348.7,204.3 349.4,205.0 350.2,205.2 351.0,205.7 351.7,205.2 352.5,204.3 353.3,204.4 354.1,204.4 354.8,204.3 355.6,204.7 356.4,204.6 357.1,205.2 357.9,205.3 358.7,204.8 359.4,205.7 360.2,205.7 361.0,205.2 361.7,205.1 362.5,205.8 363.3,205.8 364.1,205.1 364.8,205.1 365.6,205.3 366.4,205.1 367.1,204.9 367.9,204.8 368.7,203.7 369.4,203.9 370.2,204.2 371.0,204.0 371.7,203.5 372.5,204.4 373.3,205.6 374.1,205.5 374.8,205.5 375.6,205.8 376.4,205.6 377.1,205.5 377.9,205.4 378.7,205.7 379.4,205.4 380.2,206.4 381.0,205.4 381.7,205.4 382.5,204.9 383.3,206.5 384.0,205.2 384.8,206.7 385.6,206.4 386.4,205.5 387.1,205.9 387.9,205.8 388.7,205.9 389.4,204.9 390.2,204.6 391.0,204.3 391.7,205.2 392.5,205.1 393.3,205.1 394.0,205.5 394.8,205.3 395.6,204.2 396.4,205.1 397.1,204.1 397.9,204.7 398.7,204.5 399.4,205.7 400.2,205.6 401.0,205.8 401.7,205.7 402.5,205.0 403.3,205.4 404.0,205.3 404.8,205.3 405.6,204.9 406.4,205.2 407.1,205.4 407.9,204.9 408.7,205.0 409.4,205.2 410.2,204.9 411.0,205.2 411.7,205.0 412.5,205.6 413.3,205.1 414.0,205.1 414.8,206.1 415.6,205.5 416.3,205.3 417.1,205.6 417.9,205.1 418.7,205.5 419.4,205.0 420.2,205.5 421.0,205.7 421.7,204.5 422.5,205.5 423.3,206.1 424.0,205.1 424.8,205.9 425.6,207.2 426.3,205.9 427.1,205.4 427.9,205.9 428.7,205.0 429.4,205.7 430.2,205.8 431.0,206.4 431.7,205.8 432.5,205.2 433.3,205.3 434.0,205.2 434.8,206.5 435.6,205.5 436.3,205.8 437.1,205.0 437.9,205.7 438.7,205.9 439.4,206.9 440.2,206.0 441.0,206.9 441.7,205.9 442.5,204.2 443.3,205.1 444.0,205.5 444.8,205.0 445.6,204.9 446.3,205.1 447.1,205.9 447.9,205.3 448.6,206.5 449.4,204.7 450.2,205.6 451.0,206.0 451.7,205.4 452.5,205.6 453.3,206.2 454.0,204.9 454.8,205.7 455.6,206.3 456.3,205.0 457.1,204.8 457.9,204.7 458.6,204.7 459.4,205.2 460.2,204.7 461.0,204.6 461.7,205.3 462.5,204.7 463.3,205.5 464.0,204.8 464.8,204.5 465.6,206.2 466.3,206.3 467.1,206.2 467.9,206.3 468.6,206.2 469.4,206.4 470.2,206.0 471.0,205.7 471.7,205.4" fill="none" stroke="#000" stroke-width="1.35" stroke-linejoin="round"/>
</g>
<line x1="87.2" y1="20.4" x2="87.2" y2="214.8" stroke="#333" stroke-width="1.4"/>
<line x1="80.9" y1="208.9" x2="472.4" y2="208.9" stroke="#666" stroke-width="1.4"/>
<line x1="80.9" y1="208.9" x2="87.2" y2="208.9" stroke="#444" stroke-width="1.2"/>
<text transform="translate(47.49,213.39) scale(1.1013,1)" font-size="20.70">30</text>
<line x1="80.9" y1="171.3" x2="87.2" y2="171.3" stroke="#444" stroke-width="1.2"/>
<text transform="translate(47.95,175.79) scale(1.0804,1)" font-size="20.70">40</text>
<line x1="80.9" y1="133.7" x2="87.2" y2="133.7" stroke="#444" stroke-width="1.2"/>
<text transform="translate(47.49,138.29) scale(1.1013,1)" font-size="20.70">50</text>
<line x1="80.9" y1="96.2" x2="87.2" y2="96.2" stroke="#444" stroke-width="1.2"/>
<text transform="translate(47.25,100.69) scale(1.1121,1)" font-size="20.70">60</text>
<line x1="80.9" y1="58.6" x2="87.2" y2="58.6" stroke="#444" stroke-width="1.2"/>
<text transform="translate(47.25,63.69) scale(1.1121,1)" font-size="20.70">70</text>
<line x1="80.9" y1="21.0" x2="87.2" y2="21.0" stroke="#444" stroke-width="1.2"/>
<text transform="translate(47.37,24.79) scale(1.1067,1)" font-size="20.70">80</text>
<line x1="87.2" y1="208.9" x2="87.2" y2="214.8" stroke="#444" stroke-width="1.2"/>
<text transform="translate(80.08,241.29) scale(1.1069,1)" font-size="20.70">0</text>
<line x1="183.3" y1="208.9" x2="183.3" y2="214.8" stroke="#444" stroke-width="1.2"/>
<text transform="translate(165.00,241.29) scale(1.0281,1)" font-size="20.70">100</text>
<line x1="279.5" y1="208.9" x2="279.5" y2="214.8" stroke="#444" stroke-width="1.2"/>
<text transform="translate(260.29,241.29) scale(1.0760,1)" font-size="20.70">200</text>
<line x1="375.6" y1="208.9" x2="375.6" y2="214.8" stroke="#444" stroke-width="1.2"/>
<text transform="translate(356.61,241.29) scale(1.0693,1)" font-size="20.70">300</text>
<line x1="471.7" y1="208.9" x2="471.7" y2="214.8" stroke="#444" stroke-width="1.2"/>
<text transform="translate(453.87,241.29) scale(1.0500,1)" font-size="20.70">400</text>
<text transform="translate(10.60,25.80) scale(0.9489,1)" font-size="22.03">A</text>
<text transform="translate(238.28,275.69) scale(1.0145,1)" font-size="21.50" font-weight="bold" style="fill:#0b0b0b">Time (s)</text>
<text transform="translate(25.98,185.55) rotate(-90) scale(0.9973,1)" font-size="22.31" font-weight="bold" style="fill:#0b0b0b">Fluorescence</text>
<text transform="translate(484.21,77.15) scale(1.0065,1)" font-size="14.79">No CP</text>
<text transform="translate(484.66,113.45) scale(0.9958,1)" font-size="14.79">+ 1 <tspan class='sy'>μ</tspan>M CTΔPR</text>
<text transform="translate(484.66,131.75) scale(0.9967,1)" font-size="14.79">+ 0.5 <tspan class='sy'>μ</tspan>M CTΔPR</text>
<text transform="translate(484.66,150.65) scale(1.0011,1)" font-size="14.79">+ 0.25 <tspan class='sy'>μ</tspan>M CTΔPR</text>
<text transform="translate(484.66,169.05) scale(1.0007,1)" font-size="14.79">+0.1 <tspan class='sy'>μ</tspan>M CTΔPR</text>
<text transform="translate(484.66,187.55) scale(0.9946,1)" font-size="14.79">CP</text>
<text transform="translate(484.65,205.55) scale(1.0170,1)" font-size="14.79">G-actin</text>
<line x1="89.4" y1="334.0" x2="89.4" y2="468.0" stroke="#222" stroke-width="1.5"/>
<line x1="84.0" y1="463.0" x2="389.1" y2="463.0" stroke="#444" stroke-width="1.5"/>
<line x1="84.1" y1="462.9" x2="89.4" y2="462.9" stroke="#333" stroke-width="1.2"/>
<text transform="translate(55.95,467.30) scale(1.0488,1)" font-size="18.14">24</text>
<line x1="84.1" y1="420.1" x2="89.4" y2="420.1" stroke="#333" stroke-width="1.2"/>
<text transform="translate(55.93,424.53) scale(1.0696,1)" font-size="18.14">27</text>
<line x1="84.1" y1="377.4" x2="89.4" y2="377.4" stroke="#333" stroke-width="1.2"/>
<text transform="translate(56.14,381.58) scale(1.0587,1)" font-size="17.89">30</text>
<line x1="84.1" y1="334.6" x2="89.4" y2="334.6" stroke="#333" stroke-width="1.2"/>
<text transform="translate(56.14,338.81) scale(1.0638,1)" font-size="17.89">33</text>
<line x1="89.3" y1="463.0" x2="89.3" y2="468.0" stroke="#333" stroke-width="1.2"/>
<text transform="translate(84.01,490.12) scale(1.0205,1)" font-size="18.17">0</text>
<line x1="164.1" y1="463.0" x2="164.1" y2="468.0" stroke="#333" stroke-width="1.2"/>
<text transform="translate(153.58,490.12) scale(1.0263,1)" font-size="18.17">50</text>
<line x1="238.9" y1="463.0" x2="238.9" y2="468.0" stroke="#333" stroke-width="1.2"/>
<text transform="translate(223.29,490.12) scale(0.9981,1)" font-size="18.17">100</text>
<line x1="313.6" y1="463.0" x2="313.6" y2="468.0" stroke="#333" stroke-width="1.2"/>
<text transform="translate(297.85,490.12) scale(1.0123,1)" font-size="18.17">150</text>
<line x1="388.4" y1="463.0" x2="388.4" y2="468.0" stroke="#333" stroke-width="1.2"/>
<text transform="translate(372.46,490.12) scale(1.0381,1)" font-size="18.17">200</text>
<path d="M89.3,443.5 C90.3,436 93.3,417 95.0,409.5 C95.8,406.3 97.3,404.9 99,404.1 C103,402.3 107,400.4 111.1,398.1 C126,390 144,380.5 163.6,377.5 C200,374.5 260,374.6 313.1,374.0" fill="none" stroke="#111" stroke-width="2.2" stroke-linecap="round"/>
<polygon points="89.3,440.1 93.4,447.7 85.2,447.7" fill="#fff" stroke="#111" stroke-width="0.9"/>
<polygon points="96.4,401.9 100.5,409.5 92.3,409.5" fill="#fff" stroke="#111" stroke-width="0.9"/>
<polygon points="111.1,394.7 115.2,402.3 107.0,402.3" fill="#fff" stroke="#111" stroke-width="0.9"/>
<polygon points="163.6,374.1 167.7,381.7 159.5,381.7" fill="#fff" stroke="#111" stroke-width="0.9"/>
<polygon points="313.1,370.6 317.2,378.2 309.0,378.2" fill="#fff" stroke="#111" stroke-width="0.9"/>
<polygon points="89.3,359.6 93.2,363.4 89.3,367.2 85.4,363.4" fill="#111"/>
<text transform="translate(7.87,318.40) scale(1.0597,1)" font-size="22.75">B</text>
<text transform="translate(172.87,517.99) scale(1.0104,1)" font-size="18.61" font-weight="bold" style="fill:#0b0b0b">[474-513] nM</text>
<text transform="translate(38.67,471.74) rotate(-90) scale(0.9839,1)" font-size="22.59" font-weight="bold" style="fill:#0b0b0b">Fluorescence</text>
<g id="curvesC">
<polyline points="96.0,827.1 96.6,826.6 97.1,825.3 97.7,826.5 98.3,824.8 98.9,825.2 99.4,824.4 100.0,824.1 100.6,823.9 101.2,823.6 101.7,823.3 102.3,822.9 102.9,822.7 103.5,821.9 104.0,822.4 104.6,821.3 105.2,821.0 105.7,820.6 106.3,820.6 106.9,819.6 107.5,819.1 108.0,818.9 108.6,819.3 109.2,818.0 109.8,817.9 110.3,817.2 110.9,816.5 111.5,816.6 112.1,815.8 112.6,815.9 113.2,815.6 113.8,815.4 114.3,813.9 114.9,813.6 115.5,812.5 116.1,813.1 116.6,812.2 117.2,811.9 117.8,811.0 118.4,811.2 118.9,811.0 119.5,809.3 120.1,808.8 120.7,808.3 121.2,809.0 121.8,808.4 122.4,809.1 122.9,808.3 123.5,806.9 124.1,806.3 124.7,805.5 125.2,804.7 125.8,804.7 126.4,802.9 127.0,803.4 127.5,802.1 128.1,802.5 128.7,801.5 129.3,801.3 129.8,801.3 130.4,800.3 131.0,800.7 131.5,798.9 132.1,798.9 132.7,798.3 133.3,798.1 133.8,798.3 134.4,797.6 135.0,797.1 135.6,796.1 136.1,796.6 136.7,795.6 137.3,795.9 137.9,793.7 138.4,794.8 139.0,792.9 139.6,793.1 140.1,791.9 140.7,791.8 141.3,791.1 141.9,790.9 142.4,789.7 143.0,789.3 143.6,789.1 144.2,788.7 144.7,789.7 145.3,788.2 145.9,788.2 146.5,788.6 147.0,787.0 147.6,786.9 148.2,785.4 148.7,786.1 149.3,785.3 149.9,785.1 150.5,785.4 151.0,783.9 151.6,783.8 152.2,782.5 152.8,781.7 153.3,782.1 153.9,782.5 154.5,781.5 155.0,781.6 155.6,780.9 156.2,781.0 156.8,780.7 157.3,779.3 157.9,779.6 158.5,777.8 159.1,778.9 159.6,777.8 160.2,776.9 160.8,777.6 161.4,777.2 161.9,776.7 162.5,776.3 163.1,775.2 163.6,774.1 164.2,773.9 164.8,774.7 165.4,773.9 165.9,772.9 166.5,773.5 167.1,772.6 167.7,772.4 168.2,771.5 168.8,771.8 169.4,771.5 170.0,771.5 170.5,770.1 171.1,770.2 171.7,768.6 172.2,769.4 172.8,768.4 173.4,767.8 174.0,767.2 174.5,767.4 175.1,766.6 175.7,767.0 176.3,766.6 176.8,766.0 177.4,764.4 178.0,765.0 178.6,764.9 179.1,764.3 179.7,762.9 180.3,761.6 180.8,763.3 181.4,762.5 182.0,762.3 182.6,761.9 183.1,761.4 183.7,762.0 184.3,761.0 184.9,760.5 185.4,760.4 186.0,758.5 186.6,758.7 187.2,758.3 187.7,759.5 188.3,758.9 188.9,758.8 189.4,757.6 190.0,756.7 190.6,758.1 191.2,756.8 191.7,757.0 192.3,756.3 192.9,756.6 193.5,756.1 194.0,755.3 194.6,755.5 195.2,755.4 195.8,754.6 196.3,754.9 196.9,754.2 197.5,755.1 198.0,751.9 198.6,751.6 199.2,751.8 199.8,753.2 200.3,754.2 200.9,753.1 201.5,752.3 202.1,750.4 202.6,750.2 203.2,751.1 203.8,750.1 204.4,750.5 204.9,750.3 205.5,748.6 206.1,748.7 206.6,749.6 207.2,749.9 207.8,748.3 208.4,746.7 208.9,747.7 209.5,747.7 210.1,746.2 210.7,748.0 211.2,744.7 211.8,745.8 212.4,744.9 213.0,744.5 213.5,746.6 214.1,745.7 214.7,743.0 215.2,744.2 215.8,743.5 216.4,742.7 217.0,741.4 217.5,741.5 218.1,742.7 218.7,742.8 219.3,742.4 219.8,741.9 220.4,741.0 221.0,741.1 221.6,739.3 222.1,740.8 222.7,739.1 223.3,738.0 223.8,737.4 224.4,738.3 225.0,738.6 225.6,738.5 226.1,737.1 226.7,736.7 227.3,736.9 227.9,737.9 228.4,736.9 229.0,735.3 229.6,734.7 230.2,736.2 230.7,735.5 231.3,736.1 231.9,735.2 232.4,732.6 233.0,734.3 233.6,734.1 234.2,734.0 234.7,733.7 235.3,733.9 235.9,732.0 236.5,731.8 237.0,730.0 237.6,731.7 238.2,730.1 238.8,729.6 239.3,731.4 239.9,729.8 240.5,731.0 241.0,729.3 241.6,728.1 242.2,728.5 242.8,728.5 243.3,728.4 243.9,727.8 244.5,726.5 245.1,727.4 245.6,726.7 246.2,726.2 246.8,725.9 247.4,728.0 247.9,726.5 248.5,726.8 249.1,725.0 249.6,723.8 250.2,724.3 250.8,723.9 251.4,725.4 251.9,723.7 252.5,723.3 253.1,722.3 253.7,722.2 254.2,722.0 254.8,722.0 255.4,721.0 256.0,721.4 256.5,721.0 257.1,721.4 257.7,720.1 258.2,720.4 258.8,721.7 259.4,720.2 260.0,720.5 260.5,718.6 261.1,718.1 261.7,719.2 262.3,718.5 262.8,718.6 263.4,718.6 264.0,716.8 264.6,716.8 265.1,718.1 265.7,717.0 266.3,717.0 266.8,716.3 267.4,715.8 268.0,715.3 268.6,715.9 269.1,715.2 269.7,714.8 270.3,715.1 270.9,713.5 271.4,713.9 272.0,714.8 272.6,714.4 273.1,710.8 273.7,712.6 274.3,712.3 274.9,711.3 275.4,712.0 276.0,712.3 276.6,712.0 277.2,712.7 277.7,711.4 278.3,713.3 278.9,711.3 279.5,711.0 280.0,711.6 280.6,708.6 281.2,710.4 281.7,708.9 282.3,710.0 282.9,709.2 283.5,709.9 284.0,707.2 284.6,707.9 285.2,706.5 285.8,707.8 286.3,707.4 286.9,707.2 287.5,706.6 288.1,706.5 288.6,707.3 289.2,707.5 289.8,707.6 290.3,706.7 290.9,705.7 291.5,706.4 292.1,705.5 292.6,706.0 293.2,706.2 293.8,705.7 294.4,705.3 294.9,704.6 295.5,704.9 296.1,703.6 296.7,705.4 297.2,705.2 297.8,703.1 298.4,703.2 298.9,703.6 299.5,701.2 300.1,701.9 300.7,701.7 301.2,701.5 301.8,702.6 302.4,701.7 303.0,702.7 303.5,702.0 304.1,702.1 304.7,699.9 305.3,699.2 305.8,699.9 306.4,698.1 307.0,700.1 307.5,699.4 308.1,700.5 308.7,698.9 309.3,699.2 309.8,699.7 310.4,699.2 311.0,699.2 311.6,699.3 312.1,699.2 312.7,697.1 313.3,698.3 313.9,699.7 314.4,700.2 315.0,700.9 315.6,699.3 316.1,696.6 316.7,698.0 317.3,696.2 317.9,697.4 318.4,695.9 319.0,696.5 319.6,696.5 320.2,694.4 320.7,693.6 321.3,693.0 321.9,694.2 322.5,694.8 323.0,695.5 323.6,696.1 324.2,693.7 324.7,694.5 325.3,694.5 325.9,693.9 326.5,692.8 327.0,694.4 327.6,692.6 328.2,693.1 328.8,693.0 329.3,694.7 329.9,691.6 330.5,693.0 331.1,691.9 331.6,690.9 332.2,691.5 332.8,691.1 333.3,693.2 333.9,691.1 334.5,690.7 335.1,690.5 335.6,690.4 336.2,690.7 336.8,689.8 337.4,690.7 337.9,692.4 338.5,691.3 339.1,689.7 339.7,689.8 340.2,689.4 340.8,688.9 341.4,688.0 341.9,687.4 342.5,687.7 343.1,689.4 343.7,686.8 344.2,687.8 344.8,688.8 345.4,687.0 346.0,686.6 346.5,685.3 347.1,687.5 347.7,685.7 348.3,687.2 348.8,688.4 349.4,685.8 350.0,686.6 350.5,687.1 351.1,685.9 351.7,686.8 352.3,684.6 352.8,685.6 353.4,686.5 354.0,684.7 354.6,685.5 355.1,685.4 355.7,685.9 356.3,685.5 356.9,684.4 357.4,686.5 358.0,686.3 358.6,684.6 359.1,683.5 359.7,683.1 360.3,680.9 360.9,684.2 361.4,682.7 362.0,684.5 362.6,683.2 363.2,682.7 363.7,680.8 364.3,682.6 364.9,681.2 365.5,681.7 366.0,681.4 366.6,678.6 367.2,679.6 367.7,681.2 368.3,679.2 368.9,682.5 369.5,679.5 370.0,680.6 370.6,681.9 371.2,681.6 371.8,680.6 372.3,679.2 372.9,680.3 373.5,681.1 374.1,681.4 374.6,679.8 375.2,681.0 375.8,679.5 376.3,678.8 376.9,679.4 377.5,679.9 378.1,678.3 378.6,679.8 379.2,678.8 379.8,677.0 380.4,677.9 380.9,677.4 381.5,674.3 382.1,677.1 382.6,677.4 383.2,676.9 383.8,676.9 384.4,677.9 384.9,677.0 385.5,675.9 386.1,676.1 386.7,675.5 387.2,678.4 387.8,677.2 388.4,674.2 389.0,675.1 389.5,674.9 390.1,676.1 390.7,677.1 391.2,674.8 391.8,676.4 392.4,675.4 393.0,674.6 393.5,673.2 394.1,674.9 394.7,673.0 395.3,674.0 395.8,673.8 396.4,677.1 397.0,674.4 397.6,673.7 398.1,672.5 398.7,673.6 399.3,672.5 399.8,672.0 400.4,672.9 401.0,672.4 401.6,673.0 402.1,673.2 402.7,671.8 403.3,672.4 403.9,673.8 404.4,673.6 405.0,671.8 405.6,669.7 406.2,671.2 406.7,671.2 407.3,670.7 407.9,670.2 408.4,670.7 409.0,671.8 409.6,671.1 410.2,671.4 410.7,669.9 411.3,671.5 411.9,670.8 412.5,669.9 413.0,670.5 413.6,669.1 414.2,669.1 414.8,669.6 415.3,670.2 415.9,669.3 416.5,670.5 417.0,669.9 417.6,672.6 418.2,671.0 418.8,669.0 419.3,668.7 419.9,667.8 420.5,667.4 421.1,670.0 421.6,669.5 422.2,670.6 422.8,667.3 423.4,667.5 423.9,666.6 424.5,665.9 425.1,668.0 425.6,666.2 426.2,665.9 426.8,666.5 427.4,665.1 427.9,665.9 428.5,666.0 429.1,667.3 429.7,667.1 430.2,665.8 430.8,665.3 431.4,666.0 432.0,665.2 432.5,664.7 433.1,665.2 433.7,665.3 434.2,665.3 434.8,665.9 435.4,665.5 436.0,663.3 436.5,664.7 437.1,663.1 437.7,662.7 438.3,663.9 438.8,664.5 439.4,665.0 440.0,664.0 440.6,662.8 441.1,662.2 441.7,664.0 442.3,662.1 442.8,662.1 443.4,662.1 444.0,662.9 444.6,661.9 445.1,661.0 445.7,663.5 446.3,662.7 446.9,665.1 447.4,664.7 448.0,663.8 448.6,663.4 449.2,661.3 449.7,660.1 450.3,660.7 450.9,660.5 451.4,661.4 452.0,662.1 452.6,661.5 453.2,660.8 453.7,662.0 454.3,661.9 454.9,661.5 455.5,660.8 456.0,662.3 456.6,660.2 457.2,660.2 457.8,658.6 458.3,661.7 458.9,661.1 459.5,659.8 460.0,659.2 460.6,660.1 461.2,657.1 461.8,659.1 462.3,659.5 462.9,660.1 463.5,657.9 464.1,658.4 464.6,658.3 465.2,659.7 465.8,657.8 466.4,659.7 466.9,659.2 467.5,658.4 468.1,660.7 468.6,659.1 469.2,657.6 469.8,657.2 470.4,658.2 470.9,659.1 471.5,658.4 472.1,659.2 472.7,657.0 473.2,658.4 473.8,658.9 474.4,657.2 475.0,658.8 475.5,661.4 476.1,655.9 476.7,655.7 477.2,658.0 477.8,658.3 478.4,656.1 479.0,656.8 479.5,657.1 480.1,657.8 480.7,657.5 481.3,657.1 481.8,655.3 482.4,656.2 483.0,656.3 483.6,655.8 484.1,657.4 484.7,654.7 485.3,658.1 485.8,656.1 486.4,655.9 487.0,655.4 487.6,655.5 488.1,654.8 488.7,657.0 489.3,655.8 489.9,654.1 490.4,654.6 491.0,654.1 491.6,652.5 492.2,654.2 492.7,654.3 493.3,654.5 493.9,654.8 494.4,655.5 495.0,655.5 495.6,654.8 496.2,653.9 496.7,652.7 497.3,651.4 497.9,653.4 498.5,651.4 499.0,653.4 499.6,652.5 500.2,653.0 500.7,653.5 501.3,654.6 501.9,649.5 502.5,652.4 503.0,653.6 503.6,652.2 504.2,652.4 504.8,649.5 505.3,649.2 505.9,649.9 506.5,650.6 507.1,650.9 507.6,654.6 508.2,652.3 508.8,651.7 509.3,651.3 509.9,651.3 510.5,653.9 511.1,652.2 511.6,651.9 512.2,654.9 512.8,653.3 513.4,651.0 513.9,651.2 514.5,651.7 515.1,651.4 515.7,649.9 516.2,649.0 516.8,651.9 517.4,650.3 517.9,651.1 518.5,650.9 519.1,650.3 519.7,650.6 520.2,651.6 520.8,647.6 521.4,650.9 522.0,650.0 522.5,649.7 523.1,649.3 523.7,649.2 524.3,647.6 524.8,650.7" fill="none" stroke="#000" stroke-width="1.4" stroke-linejoin="round"/>
<polyline points="96.0,827.5 96.6,826.7 97.1,826.7 97.7,827.0 98.3,826.2 98.9,825.0 99.4,824.8 100.0,824.6 100.6,825.7 101.2,824.4 101.7,823.3 102.3,822.7 102.9,823.3 103.5,822.4 104.0,822.1 104.6,822.5 105.2,821.2 105.7,822.1 106.3,821.7 106.9,821.4 107.5,819.3 108.0,819.9 108.6,819.3 109.2,818.2 109.8,818.6 110.3,817.7 110.9,818.8 111.5,817.0 112.1,816.8 112.6,817.5 113.2,815.9 113.8,816.7 114.3,815.9 114.9,815.9 115.5,816.2 116.1,815.4 116.6,815.5 117.2,813.1 117.8,812.1 118.4,812.5 118.9,813.5 119.5,812.7 120.1,813.0 120.7,811.8 121.2,811.4 121.8,811.2 122.4,810.6 122.9,809.9 123.5,809.3 124.1,809.9 124.7,808.7 125.2,808.8 125.8,809.5 126.4,808.0 127.0,808.0 127.5,807.4 128.1,806.7 128.7,806.7 129.3,807.3 129.8,805.4 130.4,805.5 131.0,805.1 131.5,804.6 132.1,804.7 132.7,805.5 133.3,805.3 133.8,804.9 134.4,804.4 135.0,804.6 135.6,802.9 136.1,803.7 136.7,803.1 137.3,802.9 137.9,803.6 138.4,802.6 139.0,803.4 139.6,803.0 140.1,802.8 140.7,803.2 141.3,802.1 141.9,802.5 142.4,801.9 143.0,803.1 143.6,801.6 144.2,802.3 144.7,801.8 145.3,801.2 145.9,801.2 146.5,801.6 147.0,800.9 147.6,800.9 148.2,800.2 148.7,802.2 149.3,801.0 149.9,801.1 150.5,801.2 151.0,800.3 151.6,800.9 152.2,801.4 152.8,801.5 153.3,801.1 153.9,799.9 154.5,800.3 155.0,799.9 155.6,800.2 156.2,799.2 156.8,799.1 157.3,798.5 157.9,799.5 158.5,799.1 159.1,799.9 159.6,799.1 160.2,800.2 160.8,800.5 161.4,798.1 161.9,798.2 162.5,798.0 163.1,798.0 163.6,798.2 164.2,797.4 164.8,798.1 165.4,796.9 165.9,797.5 166.5,798.7 167.1,797.3 167.7,796.6 168.2,797.5 168.8,796.1 169.4,796.6 170.0,797.0 170.5,798.2 171.1,796.7 171.7,797.5 172.2,796.6 172.8,796.3 173.4,795.7 174.0,794.8 174.5,795.7 175.1,795.6 175.7,796.4 176.3,795.9 176.8,795.4 177.4,795.3 178.0,794.8 178.6,795.6 179.1,794.5 179.7,795.6 180.3,795.5 180.8,794.8 181.4,795.6 182.0,796.1 182.6,795.3 183.1,794.6 183.7,793.2 184.3,794.1 184.9,794.5 185.4,794.4 186.0,793.7 186.6,794.8 187.2,793.3 187.7,793.6 188.3,793.5 188.9,795.0 189.4,794.0 190.0,793.2 190.6,793.9 191.2,791.9 191.7,793.7 192.3,794.1 192.9,793.7 193.5,793.5 194.0,793.4 194.6,793.9 195.2,792.8 195.8,793.6 196.3,793.5 196.9,794.6 197.5,794.6 198.0,793.9 198.6,794.4 199.2,794.1 199.8,793.7 200.3,793.4 200.9,793.4 201.5,793.5 202.1,793.0 202.6,793.3 203.2,793.3 203.8,793.9 204.4,793.0 204.9,793.3 205.5,794.1 206.1,792.2 206.6,794.3 207.2,792.8 207.8,792.3 208.4,792.6 208.9,790.9 209.5,793.0 210.1,793.4 210.7,792.6 211.2,793.0 211.8,793.2 212.4,792.6 213.0,793.2 213.5,792.6 214.1,792.5 214.7,793.0 215.2,792.6 215.8,791.7 216.4,793.0 217.0,791.7 217.5,791.2 218.1,791.5 218.7,792.7 219.3,792.7 219.8,792.5 220.4,791.2 221.0,791.6 221.6,793.0 222.1,792.9 222.7,792.4 223.3,791.9 223.8,791.0 224.4,790.8 225.0,790.7 225.6,791.3 226.1,791.8 226.7,791.3 227.3,792.7 227.9,792.8 228.4,791.8 229.0,791.5 229.6,793.4 230.2,792.1 230.7,791.5 231.3,791.5 231.9,791.4 232.4,791.4 233.0,791.4 233.6,790.8 234.2,791.8 234.7,790.5 235.3,790.3 235.9,790.0 236.5,791.9 237.0,792.0 237.6,791.1 238.2,791.7 238.8,791.7 239.3,791.6 239.9,791.5 240.5,790.8 241.0,790.7 241.6,790.8 242.2,790.0 242.8,791.0 243.3,789.5 243.9,791.4 244.5,788.7 245.1,791.0 245.6,790.3 246.2,790.6 246.8,790.6 247.4,789.8 247.9,789.8 248.5,791.1 249.1,790.2 249.6,789.2 250.2,790.2 250.8,790.7 251.4,790.8 251.9,790.3 252.5,790.5 253.1,790.2 253.7,790.3 254.2,790.1 254.8,791.0 255.4,789.0 256.0,789.9 256.5,789.3 257.1,789.4 257.7,789.6 258.2,790.5 258.8,789.7 259.4,789.3 260.0,789.2 260.5,788.4 261.1,789.8 261.7,789.2 262.3,790.2 262.8,789.1 263.4,789.8 264.0,789.2 264.6,788.6 265.1,790.4 265.7,788.4 266.3,789.4 266.8,789.6 267.4,790.3 268.0,789.6 268.6,790.8 269.1,789.4 269.7,789.4 270.3,788.2 270.9,789.4 271.4,788.2 272.0,788.4 272.6,788.0 273.1,789.2 273.7,787.9 274.3,789.0 274.9,789.3 275.4,789.6 276.0,789.2 276.6,789.7 277.2,789.2 277.7,788.8 278.3,789.1 278.9,788.6 279.5,788.6 280.0,787.4 280.6,787.2 281.2,788.6 281.7,788.9 282.3,787.7 282.9,788.1 283.5,788.6 284.0,789.2 284.6,788.8 285.2,787.3 285.8,788.8 286.3,787.4 286.9,788.8 287.5,788.8 288.1,787.8 288.6,788.9 289.2,788.8 289.8,789.8 290.3,790.0 290.9,790.0 291.5,789.0 292.1,789.5 292.6,789.5 293.2,788.3 293.8,788.5 294.4,788.9 294.9,789.1 295.5,790.4 296.1,788.1 296.7,789.0 297.2,788.3 297.8,788.0 298.4,788.3 298.9,788.8 299.5,788.9 300.1,788.3 300.7,787.9 301.2,788.4 301.8,789.4 302.4,788.4 303.0,788.3 303.5,787.7 304.1,788.5 304.7,787.5 305.3,788.4 305.8,788.3 306.4,789.0 307.0,788.8 307.5,788.7 308.1,788.0 308.7,788.2 309.3,787.8 309.8,788.6 310.4,788.6 311.0,788.1 311.6,787.2 312.1,788.0 312.7,788.9 313.3,788.6 313.9,790.0 314.4,788.9 315.0,789.1 315.6,788.5 316.1,788.9 316.7,787.4 317.3,787.7 317.9,789.4 318.4,788.6 319.0,787.8 319.6,787.1 320.2,788.6 320.7,789.1 321.3,788.5 321.9,787.5 322.5,788.9 323.0,789.1 323.6,788.3 324.2,790.0 324.7,789.4 325.3,787.1 325.9,786.7 326.5,788.0 327.0,787.1 327.6,787.7 328.2,787.9 328.8,788.3 329.3,788.3 329.9,788.5 330.5,788.6 331.1,788.2 331.6,787.2 332.2,787.5 332.8,789.1 333.3,788.1 333.9,787.7 334.5,788.2 335.1,787.7 335.6,788.6 336.2,788.4 336.8,788.8 337.4,787.6 337.9,788.5 338.5,787.2 339.1,788.8 339.7,789.1 340.2,787.9 340.8,788.5 341.4,788.6 341.9,788.2 342.5,788.2 343.1,788.2 343.7,788.0 344.2,788.0 344.8,788.1 345.4,787.1 346.0,788.5 346.5,788.2 347.1,788.0 347.7,788.3 348.3,788.9 348.8,788.1 349.4,787.6 350.0,788.2 350.5,788.1 351.1,788.9 351.7,788.3 352.3,788.6 352.8,788.9 353.4,787.9 354.0,787.8 354.6,786.4 355.1,788.5 355.7,788.1 356.3,787.9 356.9,787.9 357.4,788.2 358.0,788.3 358.6,788.2 359.1,787.8 359.7,788.1 360.3,787.6 360.9,787.7 361.4,788.2 362.0,788.4 362.6,788.4 363.2,788.5 363.7,787.7 364.3,787.4 364.9,786.0 365.5,787.3 366.0,787.5 366.6,786.8 367.2,788.0 367.7,787.6 368.3,787.2 368.9,787.1 369.5,787.2 370.0,788.1 370.6,788.6 371.2,787.8 371.8,787.6 372.3,786.8 372.9,787.7 373.5,787.6 374.1,788.8 374.6,786.9 375.2,787.8 375.8,787.9 376.3,788.2 376.9,787.6 377.5,787.1 378.1,787.2 378.6,788.8 379.2,787.7 379.8,787.7 380.4,788.5 380.9,788.5 381.5,789.2 382.1,788.7 382.6,789.7 383.2,788.8 383.8,788.4 384.4,787.8 384.9,787.7 385.5,786.9 386.1,787.9 386.7,787.7 387.2,787.4 387.8,787.2 388.4,787.1 389.0,787.7 389.5,788.3 390.1,787.8 390.7,787.8 391.2,787.4 391.8,788.0 392.4,787.4 393.0,788.0 393.5,786.8 394.1,787.0 394.7,787.8 395.3,787.3 395.8,789.9 396.4,787.5 397.0,787.8 397.6,786.9 398.1,788.2 398.7,786.1 399.3,787.7 399.8,787.7 400.4,786.9 401.0,787.9 401.6,788.0 402.1,787.0 402.7,787.8 403.3,786.6 403.9,787.3 404.4,786.6 405.0,788.6 405.6,787.6 406.2,787.7 406.7,786.1 407.3,786.8 407.9,786.3 408.4,787.2 409.0,787.3 409.6,787.7 410.2,787.0 410.7,787.2 411.3,788.1 411.9,788.6 412.5,788.2 413.0,786.9 413.6,787.5 414.2,787.1 414.8,787.6 415.3,787.5 415.9,787.2 416.5,787.4 417.0,786.4 417.6,787.5 418.2,787.6 418.8,788.4 419.3,787.3 419.9,787.9 420.5,788.2 421.1,786.9 421.6,788.0 422.2,787.4 422.8,787.2 423.4,786.5 423.9,787.1 424.5,786.6 425.1,786.8 425.6,787.7 426.2,788.6 426.8,788.6 427.4,787.4 427.9,787.5 428.5,788.1 429.1,787.6 429.7,787.4 430.2,787.4 430.8,787.5 431.4,786.7 432.0,788.5 432.5,788.1 433.1,788.4 433.7,788.3 434.2,788.3 434.8,788.2 435.4,787.9 436.0,787.2 436.5,786.8 437.1,787.6 437.7,786.2 438.3,787.9 438.8,786.9 439.4,785.8 440.0,787.7 440.6,786.9 441.1,787.1 441.7,787.5 442.3,788.5 442.8,786.2 443.4,786.5 444.0,786.7 444.6,785.9 445.1,787.2 445.7,785.8 446.3,786.5 446.9,785.4 447.4,786.8 448.0,786.6 448.6,787.3 449.2,787.2 449.7,786.8 450.3,787.4 450.9,787.0 451.4,786.5 452.0,786.8 452.6,788.0 453.2,787.6 453.7,787.5 454.3,786.7 454.9,786.6 455.5,786.9 456.0,787.9 456.6,787.2 457.2,788.4 457.8,786.5 458.3,786.7 458.9,786.4 459.5,787.7 460.0,787.6 460.6,787.4 461.2,786.1 461.8,786.9 462.3,786.4 462.9,786.8 463.5,786.6 464.1,787.0 464.6,786.9 465.2,786.9 465.8,787.9 466.4,788.0 466.9,788.0 467.5,787.6 468.1,787.3 468.6,786.7 469.2,787.1 469.8,787.6 470.4,787.6 470.9,787.5 471.5,787.7 472.1,787.2 472.7,786.7 473.2,786.9 473.8,787.6 474.4,787.7 475.0,788.1 475.5,787.6 476.1,786.7 476.7,787.7 477.2,786.2 477.8,786.3 478.4,787.1 479.0,786.8 479.5,787.9 480.1,788.1 480.7,787.0 481.3,787.0 481.8,786.7 482.4,787.8 483.0,786.2 483.6,787.0 484.1,787.1 484.7,786.8 485.3,787.5 485.8,787.8 486.4,788.1 487.0,788.0 487.6,786.4 488.1,787.7 488.7,788.4 489.3,787.3 489.9,787.9 490.4,786.4 491.0,787.6 491.6,786.6 492.2,786.5 492.7,787.4 493.3,787.7 493.9,787.9 494.4,787.1 495.0,787.0 495.6,786.9 496.2,787.3 496.7,786.3 497.3,786.5 497.9,786.9 498.5,788.1 499.0,787.0 499.6,786.8 500.2,787.1 500.7,787.8 501.3,786.9 501.9,786.4 502.5,787.8 503.0,786.8 503.6,787.9 504.2,786.4 504.8,785.5 505.3,786.9 505.9,787.5 506.5,787.9 507.1,787.7 507.6,786.6 508.2,786.7 508.8,787.1 509.3,786.5 509.9,786.3 510.5,785.5 511.1,786.6 511.6,786.4 512.2,787.2 512.8,788.2 513.4,786.4 513.9,786.8 514.5,787.0 515.1,787.3 515.7,787.5 516.2,787.3 516.8,787.6 517.4,786.1 517.9,786.5 518.5,786.7 519.1,787.5 519.7,787.6 520.2,787.0 520.8,786.1 521.4,785.7 522.0,786.1 522.5,786.5 523.1,786.7 523.7,787.1 524.3,787.5 524.8,788.2" fill="none" stroke="#000" stroke-width="1.4" stroke-linejoin="round"/>
<polyline points="96.0,827.5 96.6,828.1 97.1,828.9 97.7,828.0 98.3,828.1 98.9,827.8 99.4,827.8 100.0,827.9 100.6,828.0 101.2,827.3 101.7,828.2 102.3,827.6 102.9,827.9 103.5,827.2 104.0,827.9 104.6,828.2 105.2,828.3 105.7,827.9 106.3,828.2 106.9,827.1 107.5,829.1 108.0,828.1 108.6,828.8 109.2,827.4 109.8,827.8 110.3,827.3 110.9,828.2 111.5,827.8 112.1,827.9 112.6,827.4 113.2,827.7 113.8,828.8 114.3,827.7 114.9,828.1 115.5,827.3 116.1,828.0 116.6,828.1 117.2,827.9 117.8,827.5 118.4,828.0 118.9,827.2 119.5,828.3 120.1,828.1 120.7,828.8 121.2,828.5 121.8,828.1 122.4,827.6 122.9,827.8 123.5,828.0 124.1,828.4 124.7,827.6 125.2,828.2 125.8,828.3 126.4,828.2 127.0,827.5 127.5,827.4 128.1,827.6 128.7,828.2 129.3,827.8 129.8,827.5 130.4,827.2 131.0,828.5 131.5,828.1 132.1,828.0 132.7,827.9 133.3,828.0 133.8,827.5 134.4,827.8 135.0,826.5 135.6,827.8 136.1,827.4 136.7,827.4 137.3,826.8 137.9,827.4 138.4,827.2 139.0,827.4 139.6,827.6 140.1,827.6 140.7,827.0 141.3,828.1 141.9,828.6 142.4,828.7 143.0,827.8 143.6,827.6 144.2,828.4 144.7,828.3 145.3,828.4 145.9,827.8 146.5,828.7 147.0,828.2 147.6,828.3 148.2,828.1 148.7,828.1 149.3,827.8 149.9,827.7 150.5,828.6 151.0,826.8 151.6,827.5 152.2,827.6 152.8,828.0 153.3,827.8 153.9,827.2 154.5,827.5 155.0,828.0 155.6,828.4 156.2,827.2 156.8,827.3 157.3,826.9 157.9,828.2 158.5,827.6 159.1,827.5 159.6,827.6 160.2,827.1 160.8,827.6 161.4,827.6 161.9,827.6 162.5,827.5 163.1,828.2 163.6,828.4 164.2,828.0 164.8,828.3 165.4,828.4 165.9,828.0 166.5,828.3 167.1,827.8 167.7,827.8 168.2,827.8 168.8,827.9 169.4,828.0 170.0,827.8 170.5,827.6 171.1,828.0 171.7,827.3 172.2,827.4 172.8,826.9 173.4,827.7 174.0,827.0 174.5,828.1 175.1,827.7 175.7,828.1 176.3,828.0 176.8,827.5 177.4,827.3 178.0,827.4 178.6,827.6 179.1,827.8 179.7,828.1 180.3,828.0 180.8,827.6 181.4,827.2 182.0,828.7 182.6,827.5 183.1,827.3 183.7,827.2 184.3,827.5 184.9,827.4 185.4,828.1 186.0,827.9 186.6,827.4 187.2,827.9 187.7,828.0 188.3,827.8 188.9,828.4 189.4,827.5 190.0,828.4 190.6,828.0 191.2,828.2 191.7,828.5 192.3,828.3 192.9,828.4 193.5,829.0 194.0,828.7 194.6,828.3 195.2,827.6 195.8,827.9 196.3,827.5 196.9,827.0 197.5,827.3 198.0,828.2 198.6,828.0 199.2,827.7 199.8,828.1 200.3,828.5 200.9,828.3 201.5,827.8 202.1,826.7 202.6,827.7 203.2,826.7 203.8,826.7 204.4,827.8 204.9,827.8 205.5,826.8 206.1,827.3 206.6,827.4 207.2,827.9 207.8,827.6 208.4,828.1 208.9,827.0 209.5,828.2 210.1,828.4 210.7,827.5 211.2,827.0 211.8,828.1 212.4,828.2 213.0,828.8 213.5,828.3 214.1,827.9 214.7,827.9 215.2,827.8 215.8,827.8 216.4,826.5 217.0,827.4 217.5,827.3 218.1,826.9 218.7,828.1 219.3,828.6 219.8,828.1 220.4,828.4 221.0,827.6 221.6,827.1 222.1,828.2 222.7,828.2 223.3,827.3 223.8,828.3 224.4,828.0 225.0,827.5 225.6,828.0 226.1,828.2 226.7,827.2 227.3,828.0 227.9,827.7 228.4,828.2 229.0,827.8 229.6,828.1 230.2,827.2 230.7,827.9 231.3,827.1 231.9,828.0 232.4,827.5 233.0,827.2 233.6,827.6 234.2,828.3 234.7,828.2 235.3,828.5 235.9,827.8 236.5,828.7 237.0,827.3 237.6,826.8 238.2,826.8 238.8,827.3 239.3,827.9 239.9,827.7 240.5,827.9 241.0,827.6 241.6,827.7 242.2,829.1 242.8,827.3 243.3,827.3 243.9,827.3 244.5,828.4 245.1,827.9 245.6,827.6 246.2,828.6 246.8,828.6 247.4,827.9 247.9,828.2 248.5,827.5 249.1,827.9 249.6,826.9 250.2,828.2 250.8,827.9 251.4,828.0 251.9,828.1 252.5,827.9 253.1,827.9 253.7,828.6 254.2,828.0 254.8,827.4 255.4,827.3 256.0,827.1 256.5,827.4 257.1,827.9 257.7,827.2 258.2,827.6 258.8,827.3 259.4,828.1 260.0,828.8 260.5,828.2 261.1,827.6 261.7,827.4 262.3,827.7 262.8,827.2 263.4,827.9 264.0,827.9 264.6,827.1 265.1,828.2 265.7,828.0 266.3,827.7 266.8,827.3 267.4,828.4 268.0,827.8 268.6,828.3 269.1,827.1 269.7,827.6 270.3,828.6 270.9,827.6 271.4,827.4 272.0,828.2 272.6,828.1 273.1,827.2 273.7,827.8 274.3,827.3 274.9,827.8 275.4,828.3 276.0,828.2 276.6,827.9 277.2,827.2 277.7,827.7 278.3,827.3 278.9,828.2 279.5,828.3 280.0,827.0 280.6,826.6 281.2,827.4 281.7,827.7 282.3,827.0 282.9,828.1 283.5,828.0 284.0,828.5 284.6,827.6 285.2,827.4 285.8,827.8 286.3,827.9 286.9,828.3 287.5,828.2 288.1,827.5 288.6,828.0 289.2,827.1 289.8,828.1 290.3,828.0 290.9,828.2 291.5,828.1 292.1,827.6 292.6,828.5 293.2,827.3 293.8,827.0 294.4,827.4 294.9,827.1 295.5,827.4 296.1,826.7 296.7,827.2 297.2,827.7 297.8,827.5 298.4,827.3 298.9,827.6 299.5,827.9 300.1,827.7 300.7,828.1 301.2,828.1 301.8,828.8 302.4,827.9 303.0,827.5 303.5,828.0 304.1,828.0 304.7,827.2 305.3,827.5 305.8,827.7 306.4,827.5 307.0,827.2 307.5,827.3 308.1,827.8 308.7,826.9 309.3,827.4 309.8,827.7 310.4,827.1 311.0,826.9 311.6,828.0 312.1,827.5 312.7,828.0 313.3,827.3 313.9,827.7 314.4,828.3 315.0,827.5 315.6,827.4 316.1,827.7 316.7,827.6 317.3,827.9 317.9,827.3 318.4,828.2 319.0,827.8 319.6,829.0 320.2,827.9 320.7,828.9 321.3,828.0 321.9,827.3 322.5,827.9 323.0,828.4 323.6,828.6 324.2,828.1 324.7,828.4 325.3,827.9 325.9,827.7 326.5,827.7 327.0,827.8 327.6,827.1 328.2,826.9 328.8,826.9 329.3,827.4 329.9,827.9 330.5,828.2 331.1,829.0 331.6,827.7 332.2,828.3 332.8,827.1 333.3,828.4 333.9,827.3 334.5,828.4 335.1,827.8 335.6,827.7 336.2,827.2 336.8,827.6 337.4,827.4 337.9,827.6 338.5,827.7 339.1,827.7 339.7,827.9 340.2,828.1 340.8,827.7 341.4,828.2 341.9,827.7 342.5,827.7 343.1,827.8 343.7,828.5 344.2,827.4 344.8,828.0 345.4,827.9 346.0,827.2 346.5,828.4 347.1,827.6 347.7,828.3 348.3,827.7 348.8,828.0 349.4,827.3 350.0,827.4 350.5,827.4 351.1,827.2 351.7,828.3 352.3,828.4 352.8,827.4 353.4,827.9 354.0,827.6 354.6,827.3 355.1,826.8 355.7,827.0 356.3,827.6 356.9,827.8 357.4,827.1 358.0,827.3 358.6,827.7 359.1,827.8 359.7,827.9 360.3,827.3 360.9,827.9 361.4,828.1 362.0,828.5 362.6,828.6 363.2,827.9 363.7,828.0 364.3,828.0 364.9,827.6 365.5,827.4 366.0,827.7 366.6,828.1 367.2,828.5 367.7,828.5 368.3,828.3 368.9,828.2 369.5,828.1 370.0,828.0 370.6,827.5 371.2,828.1 371.8,829.0 372.3,828.3 372.9,828.5 373.5,828.0 374.1,828.8 374.6,827.7 375.2,828.3 375.8,827.8 376.3,826.9 376.9,827.2 377.5,828.2 378.1,828.6 378.6,828.5 379.2,828.6 379.8,828.2 380.4,827.8 380.9,828.2 381.5,827.5 382.1,827.7 382.6,828.2 383.2,827.3 383.8,827.7 384.4,827.8 384.9,827.3 385.5,827.4 386.1,828.1 386.7,827.9 387.2,828.6 387.8,828.7 388.4,827.3 389.0,827.0 389.5,828.0 390.1,827.2 390.7,828.2 391.2,827.5 391.8,828.0 392.4,828.3 393.0,827.4 393.5,828.1 394.1,828.1 394.7,827.7 395.3,827.9 395.8,827.8 396.4,828.4 397.0,828.3 397.6,828.1 398.1,827.7 398.7,828.2 399.3,826.7 399.8,827.4 400.4,826.6 401.0,827.9 401.6,827.8 402.1,827.8 402.7,827.0 403.3,827.8 403.9,827.5 404.4,828.1 405.0,827.8 405.6,828.0 406.2,828.2 406.7,828.6 407.3,827.4 407.9,828.2 408.4,826.8 409.0,827.6 409.6,826.8 410.2,827.9 410.7,827.9 411.3,828.1 411.9,828.0 412.5,827.8 413.0,828.7 413.6,827.5 414.2,828.3 414.8,828.1 415.3,829.0 415.9,828.0 416.5,827.6 417.0,827.9 417.6,827.8 418.2,828.5 418.8,828.2 419.3,828.0 419.9,828.0 420.5,827.6 421.1,827.3 421.6,828.2 422.2,828.2 422.8,828.3 423.4,828.5 423.9,827.0 424.5,828.1 425.1,827.0 425.6,827.4 426.2,828.6 426.8,827.6 427.4,827.5 427.9,827.5 428.5,828.0 429.1,827.5 429.7,828.0 430.2,828.2 430.8,828.0 431.4,827.7 432.0,827.2 432.5,827.9 433.1,827.7 433.7,828.6 434.2,828.2 434.8,828.0 435.4,826.8 436.0,828.3 436.5,828.5 437.1,828.1 437.7,827.6 438.3,828.5 438.8,828.1 439.4,828.6 440.0,827.5 440.6,827.6 441.1,827.4 441.7,827.8 442.3,828.0 442.8,828.1 443.4,828.2 444.0,828.3 444.6,828.3 445.1,828.2 445.7,828.6 446.3,827.8 446.9,828.8 447.4,827.9 448.0,827.8 448.6,827.4 449.2,827.9 449.7,828.6 450.3,828.3 450.9,827.5 451.4,828.0 452.0,828.2 452.6,828.4 453.2,828.3 453.7,828.1 454.3,828.3 454.9,827.7 455.5,827.0 456.0,827.0 456.6,827.8 457.2,828.0 457.8,827.4 458.3,828.0 458.9,828.6 459.5,828.1 460.0,827.7 460.6,827.0 461.2,827.7 461.8,827.3 462.3,827.8 462.9,827.4 463.5,827.5 464.1,827.5 464.6,827.5 465.2,827.6 465.8,827.7 466.4,829.4 466.9,827.5 467.5,827.7 468.1,827.9 468.6,828.1 469.2,828.1 469.8,827.7 470.4,828.3 470.9,828.1 471.5,828.1 472.1,827.8 472.7,827.9 473.2,827.8 473.8,828.4 474.4,827.9 475.0,827.3 475.5,827.4 476.1,827.9 476.7,827.9 477.2,828.0 477.8,827.7 478.4,828.3 479.0,828.3 479.5,828.9 480.1,828.3 480.7,828.2 481.3,827.9 481.8,827.2 482.4,828.1 483.0,828.2 483.6,827.6 484.1,828.1 484.7,828.0 485.3,827.9 485.8,828.0 486.4,828.3 487.0,827.8 487.6,827.6 488.1,828.5 488.7,827.9 489.3,827.4 489.9,827.5 490.4,827.7 491.0,827.6 491.6,827.5 492.2,828.3 492.7,827.7 493.3,827.7 493.9,827.8 494.4,827.6 495.0,827.4 495.6,827.5 496.2,827.5 496.7,828.4 497.3,827.5 497.9,827.5 498.5,827.1 499.0,827.8 499.6,827.1 500.2,827.7 500.7,828.5 501.3,827.5 501.9,828.2 502.5,828.4 503.0,828.1 503.6,828.6 504.2,828.1 504.8,828.2 505.3,828.0 505.9,827.6 506.5,827.7 507.1,827.3 507.6,827.7 508.2,828.5 508.8,827.8 509.3,827.6 509.9,827.7 510.5,827.4 511.1,827.4 511.6,828.2 512.2,829.0 512.8,828.1 513.4,827.8 513.9,828.0 514.5,827.7 515.1,827.8 515.7,827.2 516.2,827.7 516.8,828.2 517.4,827.7 517.9,827.6 518.5,827.2 519.1,827.4 519.7,828.0 520.2,828.0 520.8,828.7 521.4,828.1 522.0,826.8 522.5,827.4 523.1,826.9 523.7,827.3 524.3,828.6 524.8,827.6" fill="none" stroke="#000" stroke-width="1.4" stroke-linejoin="round"/>
<polyline points="352.4,788.3 353.0,787.2 353.5,788.2 354.1,787.0 354.7,786.5 355.3,787.2 355.8,784.1 356.4,784.9 357.0,785.4 357.6,785.7 358.1,784.8 358.7,784.7 359.3,784.6 359.8,785.0 360.4,783.8 361.0,783.2 361.6,782.1 362.1,783.9 362.7,781.5 363.3,781.9 363.9,781.6 364.4,781.0 365.0,781.2 365.6,779.9 366.2,779.5 366.7,780.0 367.3,779.9 367.9,777.6 368.4,778.2 369.0,779.2 369.6,779.4 370.2,778.0 370.7,777.7 371.3,779.6 371.9,776.9 372.5,777.5 373.0,776.3 373.6,777.0 374.2,777.1 374.8,776.3 375.3,776.1 375.9,774.4 376.5,775.5 377.0,774.7 377.6,774.4 378.2,775.1 378.8,772.0 379.3,774.5 379.9,770.6 380.5,773.2 381.1,771.8 381.6,770.7 382.2,771.4 382.8,771.1 383.4,769.7 383.9,769.1 384.5,769.3 385.1,769.6 385.6,769.6 386.2,768.7 386.8,770.0 387.4,767.8 387.9,770.1 388.5,767.8 389.1,768.0 389.7,768.2 390.2,766.0 390.8,766.8 391.4,764.9 392.0,767.4 392.5,767.2 393.1,766.6 393.7,765.9 394.2,764.1 394.8,764.0 395.4,762.8 396.0,763.9 396.5,761.9 397.1,763.7 397.7,763.4 398.3,761.8 398.8,761.2 399.4,761.8 400.0,761.5 400.5,762.2 401.1,761.5 401.7,763.1 402.3,762.5 402.8,761.4 403.4,759.6 404.0,757.7 404.6,759.4 405.1,760.0 405.7,759.2 406.3,759.8 406.9,757.6 407.4,756.9 408.0,757.5 408.6,755.6 409.1,755.5 409.7,756.8 410.3,757.2 410.9,757.2 411.4,754.9 412.0,754.0 412.6,754.9 413.2,753.7 413.7,755.2 414.3,753.1 414.9,752.0 415.5,752.2 416.0,753.8 416.6,752.6 417.2,753.8 417.7,753.0 418.3,753.3 418.9,752.6 419.5,752.1 420.0,751.5 420.6,751.4 421.2,750.5 421.8,750.4 422.3,749.9 422.9,749.6 423.5,749.5 424.1,749.9 424.6,749.8 425.2,749.4 425.8,748.8 426.3,748.7 426.9,748.8 427.5,749.2 428.1,749.0 428.6,746.8 429.2,745.9 429.8,746.8 430.4,745.0 430.9,747.8 431.5,746.2 432.1,746.0 432.7,745.3 433.2,744.1 433.8,744.3 434.4,745.5 434.9,746.1 435.5,745.8 436.1,743.3 436.7,741.2 437.2,741.4 437.8,742.0 438.4,742.5 439.0,741.7 439.5,740.6 440.1,742.0 440.7,740.5 441.3,741.1 441.8,741.6 442.4,741.7 443.0,738.6 443.5,740.0 444.1,740.3 444.7,739.6 445.3,738.1 445.8,738.7 446.4,737.3 447.0,737.5 447.6,737.5 448.1,737.6 448.7,739.2 449.3,738.6 449.9,737.1 450.4,736.6 451.0,737.0 451.6,736.7 452.1,736.9 452.7,736.8 453.3,735.9 453.9,735.7 454.4,736.0 455.0,735.4 455.6,733.8 456.2,734.0 456.7,734.3 457.3,733.9 457.9,732.6 458.5,732.7 459.0,732.6 459.6,734.2 460.2,734.8 460.7,734.7 461.3,734.6 461.9,731.7 462.5,731.1 463.0,732.0 463.6,731.3 464.2,731.0 464.8,731.6 465.3,732.2 465.9,729.6 466.5,729.4 467.1,730.7 467.6,728.4 468.2,729.2 468.8,730.0 469.3,729.2 469.9,729.7 470.5,728.0 471.1,728.7 471.6,727.0 472.2,727.7 472.8,729.8 473.4,727.8 473.9,729.8 474.5,727.2 475.1,727.4 475.7,727.5 476.2,728.2 476.8,726.2 477.4,726.4 477.9,726.1 478.5,723.9 479.1,722.6 479.7,722.2 480.2,725.8 480.8,726.3 481.4,725.3 482.0,723.7 482.5,725.0 483.1,723.4 483.7,721.2 484.3,723.4 484.8,723.8 485.4,722.6 486.0,721.8 486.5,721.6 487.1,722.0 487.7,722.4 488.3,719.9 488.8,720.9 489.4,721.4 490.0,720.7 490.6,720.0 491.1,721.9 491.7,722.1 492.3,721.1 492.9,721.0 493.4,722.9 494.0,720.4 494.6,718.4 495.1,718.5 495.7,717.4 496.3,720.7 496.9,719.2 497.4,717.7 498.0,717.2 498.6,717.4 499.2,716.7 499.7,714.8 500.3,717.0 500.9,717.4 501.5,719.0 502.0,717.3 502.6,716.1 503.2,714.5 503.7,715.1 504.3,716.3 504.9,715.2 505.5,716.2 506.0,714.7 506.6,715.7 507.2,714.7 507.8,714.5 508.3,716.1 508.9,713.9 509.5,712.6 510.0,713.9 510.6,711.4 511.2,714.3 511.8,712.0 512.3,713.2 512.9,712.4 513.5,712.8 514.1,711.4 514.6,712.5 515.2,711.9 515.8,713.3 516.4,711.4 516.9,712.2 517.5,710.6 518.1,711.0 518.6,712.6 519.2,711.4 519.8,711.0 520.4,710.4 520.9,709.7 521.5,709.8 522.1,710.1 522.7,708.9 523.2,709.7 523.8,709.2 524.4,708.2 525.0,707.4" fill="none" stroke="#000" stroke-width="1.4" stroke-linejoin="round"/>
<polyline points="352.4,788.7 353.0,789.6 353.5,788.5 354.1,786.8 354.7,786.7 355.3,786.6 355.8,786.8 356.4,784.2 357.0,785.0 357.6,783.8 358.1,785.7 358.7,784.5 359.3,784.8 359.8,784.4 360.4,784.0 361.0,783.7 361.6,785.2 362.1,783.7 362.7,782.9 363.3,784.2 363.9,783.1 364.4,781.9 365.0,781.0 365.6,781.5 366.2,780.8 366.7,780.3 367.3,780.4 367.9,781.6 368.4,781.3 369.0,780.2 369.6,781.6 370.2,781.7 370.7,781.4 371.3,780.7 371.9,780.7 372.5,780.7 373.0,779.7 373.6,780.7 374.2,777.8 374.8,778.1 375.3,777.7 375.9,778.8 376.5,778.2 377.0,778.4 377.6,778.2 378.2,780.5 378.8,778.3 379.3,778.8 379.9,777.5 380.5,777.7 381.1,776.6 381.6,777.4 382.2,777.5 382.8,776.1 383.4,778.0 383.9,778.1 384.5,777.1 385.1,776.7 385.6,776.2 386.2,775.3 386.8,775.5 387.4,774.8 387.9,774.2 388.5,774.5 389.1,774.9 389.7,775.9 390.2,777.7 390.8,776.2 391.4,776.1 392.0,773.5 392.5,774.8 393.1,775.8 393.7,776.9 394.2,774.8 394.8,774.7 395.4,773.4 396.0,775.3 396.5,775.3 397.1,773.1 397.7,774.4 398.3,773.4 398.8,772.7 399.4,774.7 400.0,772.7 400.5,772.6 401.1,772.6 401.7,772.5 402.3,773.9 402.8,774.5 403.4,771.4 404.0,772.9 404.6,771.8 405.1,771.9 405.7,772.3 406.3,772.0 406.9,770.9 407.4,770.1 408.0,771.0 408.6,770.4 409.1,771.3 409.7,771.6 410.3,771.1 410.9,770.7 411.4,770.2 412.0,768.8 412.6,769.4 413.2,770.0 413.7,768.8 414.3,769.4 414.9,769.3 415.5,769.2 416.0,770.6 416.6,770.7 417.2,770.0 417.7,769.8 418.3,770.0 418.9,769.0 419.5,769.5 420.0,770.4 420.6,770.9 421.2,769.7 421.8,767.9 422.3,768.5 422.9,768.1 423.5,768.3 424.1,766.8 424.6,768.4 425.2,768.7 425.8,768.3 426.3,769.2 426.9,768.0 427.5,767.7 428.1,765.8 428.6,766.8 429.2,766.1 429.8,767.1 430.4,767.5 430.9,768.9 431.5,767.9 432.1,766.7 432.7,767.2 433.2,766.6 433.8,764.0 434.4,765.8 434.9,767.4 435.5,767.0 436.1,766.0 436.7,765.0 437.2,766.2 437.8,765.3 438.4,764.3 439.0,765.5 439.5,765.3 440.1,767.0 440.7,765.2 441.3,766.1 441.8,764.3 442.4,763.0 443.0,764.0 443.5,764.4 444.1,764.0 444.7,761.9 445.3,762.6 445.8,762.8 446.4,764.0 447.0,764.8 447.6,764.8 448.1,764.4 448.7,764.1 449.3,762.6 449.9,762.3 450.4,763.1 451.0,763.2 451.6,765.1 452.1,763.1 452.7,763.0 453.3,762.6 453.9,765.2 454.4,763.9 455.0,762.2 455.6,763.1 456.2,762.6 456.7,762.5 457.3,761.3 457.9,762.5 458.5,761.8 459.0,760.2 459.6,762.2 460.2,762.4 460.7,762.3 461.3,760.7 461.9,762.1 462.5,760.2 463.0,761.1 463.6,761.7 464.2,760.9 464.8,761.7 465.3,760.1 465.9,760.2 466.5,761.0 467.1,759.9 467.6,759.7 468.2,761.0 468.8,761.3 469.3,761.4 469.9,761.0 470.5,760.3 471.1,758.9 471.6,759.8 472.2,759.9 472.8,759.7 473.4,760.3 473.9,760.1 474.5,760.3 475.1,758.2 475.7,759.1 476.2,759.1 476.8,759.1 477.4,758.3 477.9,759.3 478.5,758.6 479.1,758.5 479.7,757.6 480.2,760.0 480.8,759.4 481.4,760.2 482.0,759.2 482.5,757.3 483.1,757.7 483.7,758.4 484.3,757.4 484.8,757.1 485.4,756.5 486.0,757.7 486.5,757.1 487.1,757.6 487.7,757.5 488.3,758.1 488.8,758.1 489.4,757.4 490.0,756.9 490.6,758.2 491.1,758.3 491.7,757.1 492.3,757.8 492.9,756.2 493.4,756.5 494.0,758.5 494.6,757.2 495.1,757.0 495.7,755.3 496.3,755.3 496.9,756.6 497.4,755.7 498.0,755.3 498.6,756.0 499.2,755.9 499.7,754.9 500.3,755.2 500.9,754.8 501.5,755.3 502.0,755.3 502.6,755.5 503.2,755.7 503.7,755.3 504.3,755.0 504.9,754.2 505.5,754.6 506.0,754.4 506.6,754.4 507.2,753.5 507.8,754.0 508.3,754.4 508.9,755.6 509.5,753.9 510.0,753.6 510.6,753.8 511.2,752.6 511.8,753.8 512.3,752.5 512.9,753.1 513.5,752.5 514.1,753.7 514.6,753.4 515.2,753.3 515.8,753.8 516.4,753.9 516.9,752.9 517.5,752.8 518.1,752.5 518.6,752.6 519.2,751.8 519.8,753.9 520.4,753.0 520.9,752.1 521.5,752.8 522.1,752.8 522.7,751.5 523.2,750.3 523.8,751.2 524.4,752.1 525.0,752.9" fill="none" stroke="#000" stroke-width="1.4" stroke-linejoin="round"/>
<polyline points="352.4,788.5 353.0,787.0 353.5,786.7 354.1,785.8 354.7,784.8 355.3,785.7 355.8,786.3 356.4,785.9 357.0,786.7 357.6,786.3 358.1,783.9 358.7,784.0 359.3,783.3 359.8,784.8 360.4,784.0 361.0,783.2 361.6,785.4 362.1,784.2 362.7,783.9 363.3,785.0 363.9,782.3 364.4,783.6 365.0,782.6 365.6,781.4 366.2,784.0 366.7,783.0 367.3,782.8 367.9,781.7 368.4,781.9 369.0,780.6 369.6,783.1 370.2,782.4 370.7,782.2 371.3,782.2 371.9,782.6 372.5,782.0 373.0,781.4 373.6,781.3 374.2,782.0 374.8,782.7 375.3,782.0 375.9,781.7 376.5,781.8 377.0,780.5 377.6,782.9 378.2,779.1 378.8,780.8 379.3,781.5 379.9,783.4 380.5,781.5 381.1,781.3 381.6,781.1 382.2,781.6 382.8,781.9 383.4,782.8 383.9,780.7 384.5,780.1 385.1,780.2 385.6,781.4 386.2,780.4 386.8,781.2 387.4,781.9 387.9,780.0 388.5,780.9 389.1,783.1 389.7,782.5 390.2,781.1 390.8,781.1 391.4,780.2 392.0,778.3 392.5,778.9 393.1,780.4 393.7,780.2 394.2,780.0 394.8,781.3 395.4,782.4 396.0,780.2 396.5,780.9 397.1,780.9 397.7,780.4 398.3,780.9 398.8,778.8 399.4,779.8 400.0,779.9 400.5,779.7 401.1,778.8 401.7,779.4 402.3,780.5 402.8,780.5 403.4,780.0 404.0,781.1 404.6,780.5 405.1,780.2 405.7,779.7 406.3,779.0 406.9,780.4 407.4,780.2 408.0,779.4 408.6,779.2 409.1,780.1 409.7,781.3 410.3,781.5 410.9,779.5 411.4,779.7 412.0,780.8 412.6,779.7 413.2,780.4 413.7,780.2 414.3,779.3 414.9,780.0 415.5,779.6 416.0,779.8 416.6,778.4 417.2,778.8 417.7,778.4 418.3,779.1 418.9,779.3 419.5,778.9 420.0,780.7 420.6,780.0 421.2,780.0 421.8,779.9 422.3,778.5 422.9,779.5 423.5,779.4 424.1,779.6 424.6,780.4 425.2,779.0 425.8,779.5 426.3,779.9 426.9,779.8 427.5,780.9 428.1,780.3 428.6,779.8 429.2,779.1 429.8,779.7 430.4,779.9 430.9,780.0 431.5,781.2 432.1,779.5 432.7,780.2 433.2,780.1 433.8,779.7 434.4,779.2 434.9,779.7 435.5,780.7 436.1,778.8 436.7,777.7 437.2,779.8 437.8,778.8 438.4,779.5 439.0,778.6 439.5,778.4 440.1,778.9 440.7,777.8 441.3,779.7 441.8,779.3 442.4,780.8 443.0,779.6 443.5,779.5 444.1,778.4 444.7,778.7 445.3,778.0 445.8,778.0 446.4,778.8 447.0,779.5 447.6,779.6 448.1,779.4 448.7,778.5 449.3,778.3 449.9,778.1 450.4,777.1 451.0,778.8 451.6,777.9 452.1,777.6 452.7,778.0 453.3,777.5 453.9,778.3 454.4,777.1 455.0,778.6 455.6,778.0 456.2,777.3 456.7,777.2 457.3,777.6 457.9,777.5 458.5,776.5 459.0,776.9 459.6,777.9 460.2,777.8 460.7,777.0 461.3,777.3 461.9,775.6 462.5,777.5 463.0,775.7 463.6,775.4 464.2,775.4 464.8,777.5 465.3,778.0 465.9,778.9 466.5,777.7 467.1,775.1 467.6,777.9 468.2,778.0 468.8,776.8 469.3,777.0 469.9,778.3 470.5,777.4 471.1,777.2 471.6,778.1 472.2,776.3 472.8,777.3 473.4,776.1 473.9,777.2 474.5,778.5 475.1,779.2 475.7,777.9 476.2,777.3 476.8,777.0 477.4,777.6 477.9,777.3 478.5,777.0 479.1,778.0 479.7,776.8 480.2,775.6 480.8,775.8 481.4,775.4 482.0,774.9 482.5,775.8 483.1,775.4 483.7,778.1 484.3,776.6 484.8,776.5 485.4,777.5 486.0,776.1 486.5,778.2 487.1,776.0 487.7,777.0 488.3,777.1 488.8,776.3 489.4,776.2 490.0,776.4 490.6,777.4 491.1,776.7 491.7,776.0 492.3,775.9 492.9,775.1 493.4,776.7 494.0,777.0 494.6,776.9 495.1,776.3 495.7,776.1 496.3,775.0 496.9,775.7 497.4,775.9 498.0,774.7 498.6,776.4 499.2,776.8 499.7,775.2 500.3,774.8 500.9,774.6 501.5,774.3 502.0,775.5 502.6,775.5 503.2,775.2 503.7,775.0 504.3,774.2 504.9,775.5 505.5,775.2 506.0,777.3 506.6,774.4 507.2,776.7 507.8,775.8 508.3,774.1 508.9,776.1 509.5,776.6 510.0,774.4 510.6,775.8 511.2,776.4 511.8,776.1 512.3,775.2 512.9,774.5 513.5,774.9 514.1,774.4 514.6,775.6 515.2,774.7 515.8,775.0 516.4,774.2 516.9,774.9 517.5,774.5 518.1,773.4 518.6,774.7 519.2,775.1 519.8,773.7 520.4,774.3 520.9,774.3 521.5,774.0 522.1,772.8 522.7,775.0 523.2,774.4 523.8,774.1 524.4,775.2 525.0,775.3" fill="none" stroke="#000" stroke-width="1.4" stroke-linejoin="round"/>
</g>
<line x1="96.0" y1="547.6" x2="96.0" y2="841.8" stroke="#222" stroke-width="1.8"/>
<line x1="89.8" y1="835.3" x2="525.5" y2="835.3" stroke="#222" stroke-width="1.7"/>
<line x1="89.8" y1="835.3" x2="96.0" y2="835.3" stroke="#333" stroke-width="1.4"/>
<text transform="translate(70.04,840.49) scale(1.0023,1)" font-size="21.41">0</text>
<line x1="89.8" y1="739.6" x2="96.0" y2="739.6" stroke="#333" stroke-width="1.4"/>
<text transform="translate(60.02,745.49) scale(0.9202,1)" font-size="21.41">10</text>
<line x1="89.8" y1="644.0" x2="96.0" y2="644.0" stroke="#333" stroke-width="1.4"/>
<text transform="translate(57.92,649.59) scale(1.0117,1)" font-size="21.41">20</text>
<line x1="89.8" y1="548.3" x2="96.0" y2="548.3" stroke="#333" stroke-width="1.4"/>
<text transform="translate(58.35,554.39) scale(0.9929,1)" font-size="21.41">30</text>
<line x1="96.0" y1="835.3" x2="96.0" y2="841.8" stroke="#333" stroke-width="1.4"/>
<text transform="translate(89.24,867.10) scale(1.1275,1)" font-size="20.14">0</text>
<line x1="223.4" y1="835.3" x2="223.4" y2="841.8" stroke="#333" stroke-width="1.4"/>
<text transform="translate(204.66,867.10) scale(1.0841,1)" font-size="20.14">200</text>
<line x1="350.8" y1="835.3" x2="350.8" y2="841.8" stroke="#333" stroke-width="1.4"/>
<text transform="translate(333.03,867.10) scale(1.0454,1)" font-size="20.14">400</text>
<line x1="478.2" y1="835.3" x2="478.2" y2="841.8" stroke="#333" stroke-width="1.4"/>
<text transform="translate(459.88,867.10) scale(1.0590,1)" font-size="20.14">600</text>
<text transform="translate(8.74,555.68) scale(1.0536,1)" font-size="21.97">C</text>
<text transform="translate(279.39,890.72) scale(1.0468,1)" font-size="19.89" font-weight="bold" style="fill:#0b0b0b">Time (s)</text>
<text transform="translate(40.58,782.65) rotate(-90) scale(0.9973,1)" font-size="22.31" font-weight="bold" style="fill:#0b0b0b">Fluorescence</text>
<text transform="translate(534.59,651.65) scale(0.9851,1)" font-size="15.35">NO CP</text>
<text transform="translate(535.46,705.55) scale(0.9642,1)" font-size="15.35">+ CARMIL</text>
<text transform="translate(535.06,758.95) scale(0.9681,1)" font-size="15.35">+CD2AP</text>
<text transform="translate(535.05,776.75) scale(0.9780,1)" font-size="15.35">+control</text>
<text transform="translate(534.52,794.75) scale(1.0189,1)" font-size="15.35">CP</text>
<text transform="translate(534.54,830.65) scale(0.9872,1)" font-size="15.35">G-Actin</text>
</svg>
</body></html>
